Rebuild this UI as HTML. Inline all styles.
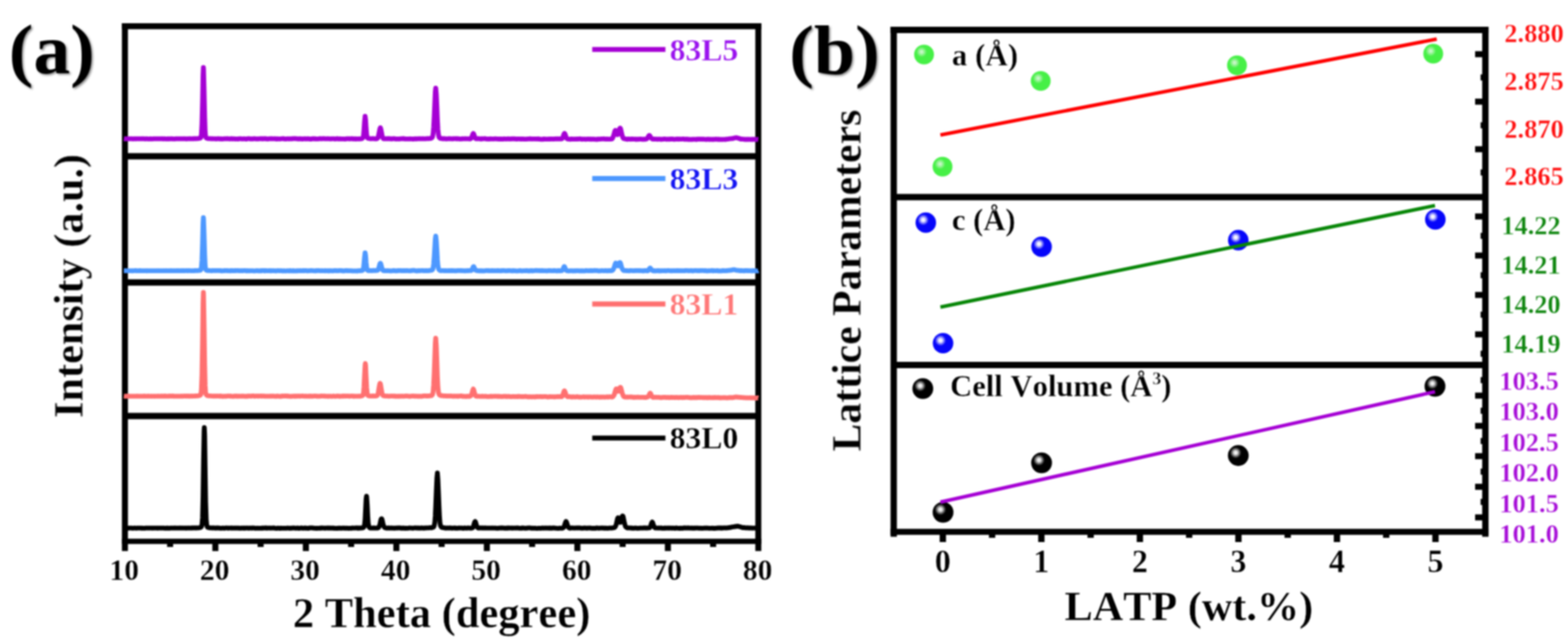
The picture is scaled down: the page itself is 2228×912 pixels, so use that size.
<!DOCTYPE html>
<html lang="en">
<head>
<meta charset="utf-8">
<title>XRD patterns and lattice parameters</title>
<style>
html,body{margin:0;padding:0;background:#fff;}
body{width:2228px;height:912px;overflow:hidden;}
svg{display:block;}
svg text{font-family:'Liberation Serif','DejaVu Serif',serif;font-weight:bold;font-kerning:none;stroke:#fff;stroke-width:0.4px;stroke-linejoin:round;}
#fig{filter:blur(0.8px);}
svg text.lab{stroke:none;filter:drop-shadow(2.5px 2.5px 1.5px rgba(0,0,0,0.45));}
</style>
</head>
<body>
<svg width="2228" height="912" viewBox="0 0 2228 912">
<rect width="2228" height="912" fill="#fff"/>
<g id="fig">
<g id="panel-a">
<g stroke="#000" fill="none" stroke-linecap="butt">
<line x1="177.5" y1="33" x2="177.5" y2="782.8" stroke-width="8.5"/>
<line x1="1077.5" y1="33" x2="1077.5" y2="782.8" stroke-width="8.5"/>
<line x1="173.2" y1="37.25" x2="1081.8" y2="37.25" stroke-width="8.5"/>
<line x1="173.2" y1="769" x2="1081.8" y2="769" stroke-width="7.6"/>
<line x1="177.5" y1="222" x2="1077.5" y2="222" stroke-width="9"/>
<line x1="177.5" y1="401.3" x2="1077.5" y2="401.3" stroke-width="9"/>
<line x1="177.5" y1="590.9" x2="1077.5" y2="590.9" stroke-width="9"/>
<line x1="306.0" y1="769" x2="306.0" y2="782.8" stroke-width="8.6"/>
<line x1="434.6" y1="769" x2="434.6" y2="782.8" stroke-width="8.6"/>
<line x1="563.2" y1="769" x2="563.2" y2="782.8" stroke-width="8.6"/>
<line x1="691.8" y1="769" x2="691.8" y2="782.8" stroke-width="8.6"/>
<line x1="820.4" y1="769" x2="820.4" y2="782.8" stroke-width="8.6"/>
<line x1="949.0" y1="769" x2="949.0" y2="782.8" stroke-width="8.6"/>
<line x1="241.7" y1="769" x2="241.7" y2="777" stroke-width="8.6"/>
<line x1="370.3" y1="769" x2="370.3" y2="777" stroke-width="8.6"/>
<line x1="498.9" y1="769" x2="498.9" y2="777" stroke-width="8.6"/>
<line x1="627.5" y1="769" x2="627.5" y2="777" stroke-width="8.6"/>
<line x1="756.1" y1="769" x2="756.1" y2="777" stroke-width="8.6"/>
<line x1="884.7" y1="769" x2="884.7" y2="777" stroke-width="8.6"/>
<line x1="1013.3" y1="769" x2="1013.3" y2="777" stroke-width="8.6"/>
</g>
<path d="M176.0 197.1 L176.8 197.2 L177.5 197.3 L178.2 197.2 L179.0 197.2 L179.8 197.2 L180.5 197.2 L181.2 197.3 L182.0 197.2 L182.8 197.1 L183.5 197.2 L184.2 197.2 L185.0 197.2 L185.8 197.1 L186.5 197.1 L187.2 197.2 L188.0 197.2 L188.8 197.3 L189.5 197.3 L190.2 197.2 L191.0 197.1 L191.8 197.1 L192.5 197.3 L193.2 197.2 L194.0 197.1 L194.8 197.2 L195.5 197.1 L196.2 197.1 L197.0 197.1 L197.8 197.1 L198.5 197.1 L199.2 197.1 L200.0 197.1 L200.8 197.1 L201.5 197.1 L202.2 197.0 L203.0 197.2 L203.8 197.2 L204.5 197.2 L205.2 197.2 L206.0 197.3 L206.8 197.3 L207.5 197.2 L208.2 197.2 L209.0 197.2 L209.8 197.3 L210.5 197.3 L211.2 197.3 L212.0 197.3 L212.8 197.3 L213.5 197.2 L214.2 197.2 L215.0 197.3 L215.8 197.3 L216.5 197.3 L217.2 197.3 L218.0 197.1 L218.8 197.1 L219.5 197.2 L220.2 197.2 L221.0 197.1 L221.8 197.2 L222.5 197.2 L223.2 197.2 L224.0 197.2 L224.8 197.2 L225.5 197.2 L226.2 197.2 L227.0 197.2 L227.8 197.2 L228.5 197.2 L229.2 197.1 L230.0 197.0 L230.8 197.1 L231.5 197.3 L232.2 197.3 L233.0 197.2 L233.8 197.1 L234.5 197.2 L235.2 197.3 L236.0 197.3 L236.8 197.3 L237.5 197.3 L238.2 197.2 L239.0 197.2 L239.8 197.3 L240.5 197.3 L241.2 197.2 L242.0 197.2 L242.8 197.2 L243.5 197.3 L244.2 197.1 L245.0 197.2 L245.8 197.3 L246.5 197.3 L247.2 197.3 L248.0 197.3 L248.8 197.3 L249.5 197.2 L250.2 197.2 L251.0 197.1 L251.8 197.2 L252.5 197.2 L253.2 197.1 L254.0 197.2 L254.8 197.2 L255.5 197.1 L256.2 197.1 L257.0 197.2 L257.8 197.2 L258.5 197.2 L259.2 197.2 L260.0 197.1 L260.8 197.1 L261.5 197.0 L262.2 197.1 L263.0 197.2 L263.8 197.2 L264.5 197.3 L265.2 197.3 L266.0 197.2 L266.8 197.2 L267.5 197.2 L268.2 197.1 L269.0 197.0 L269.8 197.0 L270.5 197.1 L271.2 197.1 L272.0 197.0 L272.8 197.1 L273.5 197.1 L274.2 197.0 L275.0 197.0 L275.8 197.0 L276.5 197.0 L277.2 196.9 L278.0 197.0 L278.8 197.0 L279.5 196.9 L280.2 196.9 L281.0 196.8 L281.8 196.7 L282.5 196.7 L283.2 196.5 L284.0 196.3 L284.8 196.1 L285.5 195.1 L286.2 191.0 L287.0 176.5 L287.8 144.6 L288.5 106.9 L289.0 95.9 L289.2 98.1 L290.0 128.6 L290.8 165.9 L291.5 187.0 L292.2 194.1 L293.0 195.9 L293.8 196.3 L294.5 196.6 L295.2 196.8 L296.0 196.8 L296.8 196.8 L297.5 196.9 L298.2 196.9 L299.0 197.0 L299.8 197.0 L300.5 197.1 L301.2 197.0 L302.0 197.0 L302.8 197.1 L303.5 197.2 L304.2 197.1 L305.0 197.2 L305.8 197.1 L306.5 197.3 L307.2 197.4 L308.0 197.2 L308.8 197.1 L309.5 196.9 L310.2 197.2 L311.0 197.0 L311.8 197.2 L312.5 197.4 L313.2 197.3 L314.0 197.1 L314.8 197.3 L315.5 197.5 L316.2 197.4 L317.0 197.3 L317.8 197.2 L318.5 197.1 L319.2 197.0 L320.0 197.2 L320.8 197.1 L321.5 197.0 L322.2 196.9 L323.0 197.1 L323.8 197.0 L324.5 197.1 L325.2 197.1 L326.0 197.3 L326.8 197.4 L327.5 197.1 L328.2 197.0 L329.0 197.0 L329.8 197.3 L330.5 197.4 L331.2 197.2 L332.0 197.1 L332.8 197.2 L333.5 197.3 L334.2 197.5 L335.0 197.3 L335.8 197.4 L336.5 197.4 L337.2 197.3 L338.0 197.5 L338.8 197.2 L339.5 197.3 L340.2 197.1 L341.0 197.0 L341.8 197.2 L342.5 197.1 L343.2 197.3 L344.0 197.3 L344.8 197.4 L345.5 197.3 L346.2 197.2 L347.0 197.1 L347.8 197.3 L348.5 197.3 L349.2 197.5 L350.0 197.5 L350.8 197.2 L351.5 197.2 L352.2 197.0 L353.0 196.9 L353.8 196.8 L354.5 197.1 L355.2 197.3 L356.0 197.4 L356.8 197.2 L357.5 197.3 L358.2 197.4 L359.0 197.2 L359.8 197.3 L360.5 197.1 L361.2 197.0 L362.0 197.0 L362.8 197.2 L363.5 197.2 L364.2 197.4 L365.0 197.3 L365.8 197.2 L366.5 197.3 L367.2 197.4 L368.0 197.1 L368.8 197.2 L369.5 197.0 L370.2 196.9 L371.0 197.2 L371.8 197.0 L372.5 197.0 L373.2 197.3 L374.0 197.2 L374.8 197.0 L375.5 197.0 L376.2 196.9 L377.0 197.1 L377.8 197.0 L378.5 197.3 L379.2 197.2 L380.0 197.4 L380.8 197.5 L381.5 197.3 L382.2 197.1 L383.0 197.2 L383.8 197.0 L384.5 197.1 L385.2 197.0 L386.0 196.8 L386.8 197.2 L387.5 197.1 L388.2 197.2 L389.0 197.2 L389.8 197.1 L390.5 196.9 L391.2 197.2 L392.0 197.4 L392.8 197.5 L393.5 197.2 L394.2 197.1 L395.0 197.2 L395.8 197.4 L396.5 197.3 L397.2 197.4 L398.0 197.4 L398.8 197.2 L399.5 197.2 L400.2 197.1 L401.0 197.0 L401.8 196.9 L402.5 196.9 L403.2 197.3 L404.0 197.2 L404.8 197.3 L405.5 197.3 L406.2 197.5 L407.0 197.3 L407.8 197.2 L408.5 197.1 L409.2 197.1 L410.0 197.3 L410.8 197.4 L411.5 197.2 L412.2 197.1 L413.0 197.2 L413.8 197.2 L414.5 197.3 L415.2 197.1 L416.0 196.9 L416.8 196.9 L417.5 196.8 L418.2 197.0 L419.0 196.9 L419.8 196.8 L420.5 197.0 L421.2 197.0 L422.0 197.2 L422.8 197.2 L423.5 197.4 L424.2 197.1 L425.0 197.2 L425.8 197.3 L426.5 197.1 L427.2 197.3 L428.0 197.1 L428.8 197.3 L429.5 197.5 L430.2 197.5 L431.0 197.3 L431.8 197.1 L432.5 197.1 L433.2 197.3 L434.0 197.2 L434.8 197.4 L435.5 197.1 L436.2 197.3 L437.0 197.1 L437.8 197.0 L438.5 197.3 L439.2 197.4 L440.0 197.5 L440.8 197.5 L441.5 197.5 L442.2 197.5 L443.0 197.2 L443.8 197.2 L444.5 197.0 L445.2 197.2 L446.0 197.3 L446.8 197.1 L447.5 197.0 L448.2 197.3 L449.0 197.4 L449.8 197.3 L450.5 197.3 L451.2 197.4 L452.0 197.3 L452.8 197.2 L453.5 197.1 L454.2 197.1 L455.0 196.9 L455.8 197.1 L456.5 197.1 L457.2 197.2 L458.0 197.0 L458.8 197.0 L459.5 196.9 L460.2 196.9 L461.0 196.9 L461.8 197.2 L462.5 197.1 L463.2 197.1 L464.0 197.2 L464.8 197.1 L465.5 196.9 L466.2 197.0 L467.0 197.1 L467.8 197.2 L468.5 197.2 L469.2 197.3 L470.0 197.3 L470.8 197.2 L471.5 197.2 L472.2 197.2 L473.0 197.1 L473.8 197.1 L474.5 197.1 L475.2 197.3 L476.0 197.5 L476.8 197.3 L477.5 197.3 L478.2 197.1 L479.0 196.9 L479.8 197.0 L480.5 197.3 L481.2 197.1 L482.0 197.2 L482.8 197.4 L483.5 197.2 L484.2 197.3 L485.0 197.4 L485.8 197.3 L486.5 197.3 L487.2 197.4 L488.0 197.3 L488.8 197.4 L489.5 197.5 L490.2 197.6 L491.0 197.5 L491.8 197.2 L492.5 197.1 L493.2 197.0 L494.0 197.1 L494.8 197.2 L495.5 197.0 L496.2 197.2 L497.0 197.3 L497.8 197.2 L498.5 197.2 L499.2 197.0 L500.0 197.2 L500.8 197.0 L501.5 197.3 L502.2 197.4 L503.0 197.3 L503.8 197.2 L504.5 197.3 L505.2 197.5 L506.0 197.2 L506.8 197.3 L507.5 197.4 L508.2 197.3 L509.0 197.3 L509.8 197.2 L510.5 197.3 L511.2 197.4 L512.0 197.2 L512.8 197.2 L513.5 197.1 L514.2 196.8 L515.0 196.5 L515.8 195.5 L516.5 192.5 L517.2 184.4 L518.0 172.6 L518.8 165.2 L518.8 165.1 L519.5 170.2 L520.2 181.9 L521.0 191.2 L521.8 195.3 L522.5 196.3 L523.2 196.5 L524.0 196.7 L524.8 196.6 L525.5 196.9 L526.2 197.0 L527.0 197.2 L527.8 197.0 L528.5 196.9 L529.2 197.0 L530.0 196.9 L530.8 197.0 L531.5 196.9 L532.2 197.1 L533.0 197.2 L533.8 197.2 L534.5 197.3 L535.2 197.1 L536.0 196.7 L536.8 196.1 L537.5 194.2 L538.2 191.1 L539.0 186.8 L539.8 182.9 L540.4 181.4 L540.5 181.4 L541.2 183.4 L542.0 187.6 L542.8 191.7 L543.5 194.8 L544.2 196.3 L545.0 197.1 L545.8 197.0 L546.5 197.0 L547.2 197.1 L548.0 197.0 L548.8 197.1 L549.5 197.0 L550.2 197.1 L551.0 196.9 L551.8 197.0 L552.5 197.0 L553.2 197.0 L554.0 197.0 L554.8 197.2 L555.5 197.3 L556.2 197.2 L557.0 197.3 L557.8 197.2 L558.5 197.0 L559.2 196.9 L560.0 196.9 L560.8 197.0 L561.5 197.3 L562.2 197.4 L563.0 197.3 L563.8 197.5 L564.5 197.3 L565.2 197.4 L566.0 197.3 L566.8 197.3 L567.5 197.5 L568.2 197.3 L569.0 197.1 L569.8 197.2 L570.5 197.2 L571.2 197.1 L572.0 196.9 L572.8 197.0 L573.5 197.0 L574.2 197.0 L575.0 197.3 L575.8 197.3 L576.5 197.3 L577.2 197.4 L578.0 197.4 L578.8 197.3 L579.5 197.4 L580.2 197.4 L581.0 197.3 L581.8 197.3 L582.5 197.2 L583.2 197.3 L584.0 197.3 L584.8 197.4 L585.5 197.4 L586.2 197.5 L587.0 197.5 L587.8 197.5 L588.5 197.4 L589.2 197.2 L590.0 197.1 L590.8 197.2 L591.5 197.4 L592.2 197.3 L593.0 197.1 L593.8 197.2 L594.5 197.2 L595.2 197.2 L596.0 196.9 L596.8 197.0 L597.5 197.2 L598.2 197.1 L599.0 197.0 L599.8 197.1 L600.5 196.9 L601.2 197.0 L602.0 197.2 L602.8 197.2 L603.5 197.1 L604.2 197.2 L605.0 197.1 L605.8 197.0 L606.5 196.8 L607.2 197.0 L608.0 196.9 L608.8 196.7 L609.5 196.9 L610.2 196.8 L611.0 196.7 L611.8 196.6 L612.5 196.6 L613.2 196.1 L614.0 195.5 L614.8 193.7 L615.5 189.3 L616.2 180.3 L617.0 165.3 L617.8 146.6 L618.5 130.5 L619.1 125.1 L619.2 125.3 L620.0 134.4 L620.8 152.1 L621.5 170.2 L622.2 183.5 L623.0 191.0 L623.8 194.7 L624.5 195.7 L625.2 196.4 L626.0 196.7 L626.8 196.7 L627.5 196.7 L628.2 196.9 L629.0 197.1 L629.8 196.9 L630.5 197.0 L631.2 196.9 L632.0 197.1 L632.8 197.1 L633.5 197.3 L634.2 197.3 L635.0 197.3 L635.8 197.1 L636.5 197.1 L637.2 197.0 L638.0 196.9 L638.8 197.1 L639.5 197.0 L640.2 197.2 L641.0 197.1 L641.8 197.2 L642.5 197.3 L643.2 197.2 L644.0 197.0 L644.8 197.0 L645.5 197.1 L646.2 196.9 L647.0 196.9 L647.8 196.8 L648.5 197.0 L649.2 197.3 L650.0 197.1 L650.8 196.9 L651.5 197.1 L652.2 197.3 L653.0 197.5 L653.8 197.4 L654.5 197.3 L655.2 197.4 L656.0 197.2 L656.8 197.3 L657.5 197.1 L658.2 197.1 L659.0 197.1 L659.8 197.1 L660.5 197.0 L661.2 197.0 L662.0 197.2 L662.8 197.2 L663.5 197.2 L664.2 197.1 L665.0 197.2 L665.8 197.1 L666.5 197.2 L667.2 197.4 L668.0 197.4 L668.8 196.9 L669.5 196.5 L670.2 195.3 L671.0 192.9 L671.8 190.6 L672.5 189.5 L672.5 189.5 L673.2 190.5 L674.0 192.9 L674.8 195.3 L675.5 196.4 L676.2 197.1 L677.0 197.0 L677.8 197.0 L678.5 197.2 L679.2 197.0 L680.0 197.0 L680.8 197.0 L681.5 197.1 L682.2 197.3 L683.0 197.5 L683.8 197.2 L684.5 197.0 L685.2 197.3 L686.0 197.1 L686.8 197.1 L687.5 197.0 L688.2 196.9 L689.0 196.9 L689.8 197.1 L690.5 197.3 L691.2 197.4 L692.0 197.5 L692.8 197.5 L693.5 197.4 L694.2 197.4 L695.0 197.6 L695.8 197.5 L696.5 197.3 L697.2 197.1 L698.0 197.4 L698.8 197.4 L699.5 197.3 L700.2 197.4 L701.0 197.4 L701.8 197.4 L702.5 197.2 L703.2 197.2 L704.0 197.2 L704.8 197.1 L705.5 197.4 L706.2 197.3 L707.0 197.4 L707.8 197.5 L708.5 197.5 L709.2 197.5 L710.0 197.6 L710.8 197.4 L711.5 197.6 L712.2 197.3 L713.0 197.5 L713.8 197.6 L714.5 197.7 L715.2 197.3 L716.0 197.2 L716.8 197.4 L717.5 197.4 L718.2 197.3 L719.0 197.5 L719.8 197.3 L720.5 197.3 L721.2 197.3 L722.0 197.2 L722.8 197.2 L723.5 197.4 L724.2 197.5 L725.0 197.3 L725.8 197.3 L726.5 197.2 L727.2 197.4 L728.0 197.2 L728.8 197.1 L729.5 197.1 L730.2 197.3 L731.0 197.3 L731.8 197.2 L732.5 197.4 L733.2 197.5 L734.0 197.6 L734.8 197.4 L735.5 197.4 L736.2 197.3 L737.0 197.3 L737.8 197.3 L738.5 197.3 L739.2 197.4 L740.0 197.6 L740.8 197.6 L741.5 197.3 L742.2 197.4 L743.0 197.4 L743.8 197.6 L744.5 197.6 L745.2 197.7 L746.0 197.7 L746.8 197.6 L747.5 197.7 L748.2 197.7 L749.0 197.5 L749.8 197.3 L750.5 197.3 L751.2 197.4 L752.0 197.2 L752.8 197.2 L753.5 197.3 L754.2 197.2 L755.0 197.4 L755.8 197.5 L756.5 197.4 L757.2 197.3 L758.0 197.3 L758.8 197.3 L759.5 197.4 L760.2 197.4 L761.0 197.4 L761.8 197.3 L762.5 197.5 L763.2 197.4 L764.0 197.3 L764.8 197.2 L765.5 197.5 L766.2 197.5 L767.0 197.6 L767.8 197.8 L768.5 197.8 L769.2 197.8 L770.0 197.9 L770.8 197.9 L771.5 197.8 L772.2 197.5 L773.0 197.5 L773.8 197.5 L774.5 197.7 L775.2 197.7 L776.0 197.7 L776.8 197.7 L777.5 197.6 L778.2 197.7 L779.0 197.7 L779.8 197.5 L780.5 197.5 L781.2 197.7 L782.0 197.6 L782.8 197.4 L783.5 197.3 L784.2 197.4 L785.0 197.5 L785.8 197.7 L786.5 197.4 L787.2 197.4 L788.0 197.5 L788.8 197.3 L789.5 197.2 L790.2 197.3 L791.0 197.3 L791.8 197.2 L792.5 197.2 L793.2 197.3 L794.0 197.4 L794.8 197.2 L795.5 197.1 L796.2 197.4 L797.0 197.4 L797.8 197.2 L798.5 197.1 L799.2 196.0 L800.0 194.4 L800.8 192.3 L801.5 190.1 L802.1 189.4 L802.2 189.4 L803.0 190.7 L803.8 193.0 L804.5 195.5 L805.2 196.6 L806.0 197.3 L806.8 197.5 L807.5 197.7 L808.2 197.7 L809.0 197.7 L809.8 197.8 L810.5 197.9 L811.2 197.6 L812.0 197.4 L812.8 197.6 L813.5 197.7 L814.2 197.6 L815.0 197.6 L815.8 197.5 L816.5 197.7 L817.2 197.7 L818.0 197.7 L818.8 197.4 L819.5 197.6 L820.2 197.6 L821.0 197.4 L821.8 197.4 L822.5 197.5 L823.2 197.3 L824.0 197.2 L824.8 197.3 L825.5 197.5 L826.2 197.7 L827.0 197.8 L827.8 197.7 L828.5 197.7 L829.2 197.7 L830.0 197.6 L830.8 197.6 L831.5 197.7 L832.2 197.9 L833.0 197.7 L833.8 197.7 L834.5 197.6 L835.2 197.5 L836.0 197.5 L836.8 197.6 L837.5 197.6 L838.2 197.8 L839.0 197.5 L839.8 197.6 L840.5 197.8 L841.2 197.8 L842.0 197.7 L842.8 197.6 L843.5 197.6 L844.2 197.8 L845.0 197.9 L845.8 197.8 L846.5 197.9 L847.2 198.0 L848.0 198.0 L848.8 197.7 L849.5 197.7 L850.2 197.8 L851.0 197.6 L851.8 197.7 L852.5 197.6 L853.2 197.5 L854.0 197.5 L854.8 197.4 L855.5 197.4 L856.2 197.4 L857.0 197.3 L857.8 197.2 L858.5 197.3 L859.2 197.5 L860.0 197.6 L860.8 197.5 L861.5 197.7 L862.2 197.5 L863.0 197.5 L863.8 197.6 L864.5 197.7 L865.2 197.6 L866.0 197.6 L866.8 197.6 L867.5 197.6 L868.2 197.4 L869.0 197.5 L869.8 197.1 L870.5 196.0 L871.2 194.5 L872.0 192.2 L872.8 189.3 L873.5 186.6 L874.2 185.2 L874.4 185.1 L875.0 185.6 L875.8 187.6 L876.5 189.9 L877.2 191.3 L878.0 191.0 L878.8 189.1 L879.5 186.1 L880.2 183.3 L881.0 181.9 L881.1 181.9 L881.8 182.8 L882.5 185.6 L883.2 189.1 L884.0 192.3 L884.8 194.7 L885.5 196.2 L886.2 196.8 L887.0 197.0 L887.8 197.2 L888.5 197.3 L889.2 197.5 L890.0 197.7 L890.8 197.8 L891.5 197.8 L892.2 197.5 L893.0 197.5 L893.8 197.6 L894.5 197.5 L895.2 197.6 L896.0 197.8 L896.8 197.5 L897.5 197.7 L898.2 197.5 L899.0 197.5 L899.8 197.7 L900.5 197.6 L901.2 197.6 L902.0 197.6 L902.8 197.8 L903.5 198.0 L904.2 197.7 L905.0 197.7 L905.8 197.9 L906.5 197.8 L907.2 197.6 L908.0 197.8 L908.8 197.6 L909.5 197.7 L910.2 197.4 L911.0 197.7 L911.8 197.8 L912.5 197.9 L913.2 198.0 L914.0 197.8 L914.8 197.7 L915.5 197.7 L916.2 197.8 L917.0 197.9 L917.8 197.6 L918.5 197.3 L919.2 197.0 L920.0 196.2 L920.8 194.8 L921.5 193.5 L922.2 192.5 L922.6 192.3 L923.0 192.5 L923.8 193.5 L924.5 195.0 L925.2 196.1 L926.0 196.9 L926.8 197.3 L927.5 197.6 L928.2 197.5 L929.0 197.5 L929.8 197.5 L930.5 197.6 L931.2 197.6 L932.0 197.7 L932.8 197.6 L933.5 197.8 L934.2 197.8 L935.0 197.8 L935.8 197.6 L936.5 197.6 L937.2 197.7 L938.0 197.8 L938.8 197.9 L939.5 198.0 L940.2 197.8 L941.0 197.8 L941.8 197.7 L942.5 197.6 L943.2 197.5 L944.0 197.5 L944.8 197.4 L945.5 197.6 L946.2 197.7 L947.0 197.8 L947.8 197.8 L948.5 197.7 L949.2 197.6 L950.0 197.7 L950.8 197.9 L951.5 197.8 L952.2 197.6 L953.0 197.4 L953.8 197.5 L954.5 197.7 L955.2 197.5 L956.0 197.5 L956.8 197.7 L957.5 197.9 L958.2 197.8 L959.0 197.8 L959.8 197.8 L960.5 197.6 L961.2 197.6 L962.0 197.5 L962.8 197.5 L963.5 197.7 L964.2 197.8 L965.0 197.6 L965.8 197.5 L966.5 197.7 L967.2 197.6 L968.0 197.6 L968.8 197.6 L969.5 197.5 L970.2 197.4 L971.0 197.4 L971.8 197.5 L972.5 197.8 L973.2 197.9 L974.0 197.7 L974.8 197.8 L975.5 197.7 L976.2 197.8 L977.0 197.7 L977.8 198.0 L978.5 197.8 L979.2 198.0 L980.0 198.0 L980.8 198.1 L981.5 198.0 L982.2 198.1 L983.0 198.0 L983.8 198.0 L984.5 198.0 L985.2 197.9 L986.0 197.9 L986.8 197.9 L987.5 197.8 L988.2 198.0 L989.0 198.0 L989.8 198.0 L990.5 197.7 L991.2 197.8 L992.0 197.7 L992.8 197.6 L993.5 197.7 L994.2 197.8 L995.0 197.7 L995.8 197.7 L996.5 197.7 L997.2 197.8 L998.0 197.8 L998.8 197.6 L999.5 197.7 L1000.2 197.8 L1001.0 197.8 L1001.8 197.9 L1002.5 198.0 L1003.2 198.1 L1004.0 198.1 L1004.8 197.8 L1005.5 197.7 L1006.2 197.9 L1007.0 197.7 L1007.8 198.0 L1008.5 197.8 L1009.2 198.0 L1010.0 197.8 L1010.8 198.0 L1011.5 198.1 L1012.2 197.9 L1013.0 198.1 L1013.8 197.9 L1014.5 198.0 L1015.2 197.9 L1016.0 197.9 L1016.8 197.7 L1017.5 197.8 L1018.2 197.7 L1019.0 197.9 L1019.8 198.0 L1020.5 198.0 L1021.2 197.7 L1022.0 198.0 L1022.8 198.1 L1023.5 198.1 L1024.2 198.0 L1025.0 198.0 L1025.8 198.1 L1026.5 198.0 L1027.2 198.1 L1028.0 198.0 L1028.8 197.9 L1029.5 198.1 L1030.2 198.0 L1031.0 198.0 L1031.8 197.7 L1032.5 197.7 L1033.2 197.6 L1034.0 197.7 L1034.8 197.5 L1035.5 197.3 L1036.2 197.2 L1037.0 197.1 L1037.8 197.1 L1038.5 197.0 L1039.2 196.8 L1040.0 196.9 L1040.8 196.8 L1041.5 196.5 L1042.2 196.4 L1043.0 196.2 L1043.8 195.9 L1044.5 195.9 L1045.2 195.6 L1045.5 195.7 L1046.0 195.6 L1046.8 195.6 L1047.5 195.9 L1048.2 196.2 L1049.0 196.3 L1049.8 196.6 L1050.5 196.7 L1051.2 197.0 L1052.0 197.4 L1052.8 197.6 L1053.5 197.4 L1054.2 197.5 L1055.0 197.6 L1055.8 197.6 L1056.5 197.8 L1057.2 197.8 L1058.0 198.0 L1058.8 198.0 L1059.5 198.0 L1060.2 197.8 L1061.0 197.9 L1061.8 198.1 L1062.5 197.9 L1063.2 198.0 L1064.0 198.0 L1064.8 197.9 L1065.5 198.0 L1066.2 198.2 L1067.0 197.9 L1067.8 198.1 L1068.5 198.0 L1069.2 198.1 L1070.0 197.9 L1070.8 198.0 L1071.5 197.8 L1072.2 197.8 L1073.0 198.1 L1073.8 198.1 L1074.5 198.2 L1075.2 198.1 L1076.0 198.0 L1076.8 198.0 L1077.5 198.1" fill="none" stroke="#a500d4" stroke-width="6.8" stroke-linejoin="round" stroke-linecap="butt"/>
<path d="M176.0 384.7 L176.8 384.7 L177.5 384.6 L178.2 384.5 L179.0 384.6 L179.8 384.7 L180.5 384.7 L181.2 384.6 L182.0 384.6 L182.8 384.6 L183.5 384.6 L184.2 384.6 L185.0 384.6 L185.8 384.6 L186.5 384.6 L187.2 384.7 L188.0 384.8 L188.8 384.7 L189.5 384.6 L190.2 384.6 L191.0 384.5 L191.8 384.4 L192.5 384.5 L193.2 384.5 L194.0 384.5 L194.8 384.6 L195.5 384.6 L196.2 384.6 L197.0 384.6 L197.8 384.5 L198.5 384.5 L199.2 384.5 L200.0 384.5 L200.8 384.6 L201.5 384.7 L202.2 384.6 L203.0 384.7 L203.8 384.7 L204.5 384.7 L205.2 384.7 L206.0 384.7 L206.8 384.7 L207.5 384.7 L208.2 384.7 L209.0 384.8 L209.8 384.6 L210.5 384.7 L211.2 384.7 L212.0 384.6 L212.8 384.6 L213.5 384.6 L214.2 384.7 L215.0 384.7 L215.8 384.7 L216.5 384.6 L217.2 384.7 L218.0 384.7 L218.8 384.7 L219.5 384.7 L220.2 384.7 L221.0 384.7 L221.8 384.7 L222.5 384.6 L223.2 384.6 L224.0 384.6 L224.8 384.5 L225.5 384.6 L226.2 384.6 L227.0 384.7 L227.8 384.6 L228.5 384.7 L229.2 384.7 L230.0 384.7 L230.8 384.6 L231.5 384.6 L232.2 384.6 L233.0 384.6 L233.8 384.5 L234.5 384.6 L235.2 384.7 L236.0 384.7 L236.8 384.5 L237.5 384.6 L238.2 384.7 L239.0 384.7 L239.8 384.6 L240.5 384.6 L241.2 384.5 L242.0 384.6 L242.8 384.5 L243.5 384.5 L244.2 384.6 L245.0 384.5 L245.8 384.6 L246.5 384.6 L247.2 384.6 L248.0 384.5 L248.8 384.6 L249.5 384.6 L250.2 384.6 L251.0 384.5 L251.8 384.5 L252.5 384.5 L253.2 384.6 L254.0 384.5 L254.8 384.6 L255.5 384.5 L256.2 384.6 L257.0 384.5 L257.8 384.5 L258.5 384.6 L259.2 384.5 L260.0 384.5 L260.8 384.6 L261.5 384.5 L262.2 384.5 L263.0 384.6 L263.8 384.5 L264.5 384.4 L265.2 384.5 L266.0 384.5 L266.8 384.6 L267.5 384.5 L268.2 384.5 L269.0 384.4 L269.8 384.5 L270.5 384.6 L271.2 384.6 L272.0 384.7 L272.8 384.7 L273.5 384.7 L274.2 384.7 L275.0 384.6 L275.8 384.5 L276.5 384.5 L277.2 384.5 L278.0 384.4 L278.8 384.4 L279.5 384.5 L280.2 384.3 L281.0 384.3 L281.8 384.3 L282.5 384.2 L283.2 384.1 L284.0 384.1 L284.8 383.8 L285.5 383.1 L286.2 380.0 L287.0 369.2 L287.8 345.5 L288.5 317.4 L289.0 309.2 L289.2 310.8 L290.0 333.5 L290.8 361.3 L291.5 377.0 L292.2 382.3 L293.0 383.7 L293.8 384.1 L294.5 384.3 L295.2 384.3 L296.0 384.3 L296.8 384.3 L297.5 384.4 L298.2 384.4 L299.0 384.5 L299.8 384.6 L300.5 384.5 L301.2 384.5 L302.0 384.5 L302.8 384.4 L303.5 384.4 L304.2 384.4 L305.0 384.4 L305.8 384.5 L306.5 384.4 L307.2 384.3 L308.0 384.3 L308.8 384.3 L309.5 384.3 L310.2 384.4 L311.0 384.4 L311.8 384.4 L312.5 384.5 L313.2 384.4 L314.0 384.7 L314.8 384.8 L315.5 384.8 L316.2 384.7 L317.0 384.7 L317.8 384.7 L318.5 384.4 L319.2 384.5 L320.0 384.5 L320.8 384.4 L321.5 384.3 L322.2 384.5 L323.0 384.5 L323.8 384.5 L324.5 384.7 L325.2 384.7 L326.0 384.6 L326.8 384.8 L327.5 384.7 L328.2 384.4 L329.0 384.6 L329.8 384.4 L330.5 384.4 L331.2 384.6 L332.0 384.7 L332.8 384.4 L333.5 384.5 L334.2 384.5 L335.0 384.5 L335.8 384.4 L336.5 384.5 L337.2 384.4 L338.0 384.4 L338.8 384.4 L339.5 384.7 L340.2 384.5 L341.0 384.6 L341.8 384.5 L342.5 384.6 L343.2 384.5 L344.0 384.5 L344.8 384.7 L345.5 384.6 L346.2 384.4 L347.0 384.3 L347.8 384.3 L348.5 384.5 L349.2 384.6 L350.0 384.8 L350.8 384.8 L351.5 384.5 L352.2 384.6 L353.0 384.7 L353.8 384.8 L354.5 384.7 L355.2 384.6 L356.0 384.6 L356.8 384.7 L357.5 384.6 L358.2 384.6 L359.0 384.6 L359.8 384.8 L360.5 384.8 L361.2 384.9 L362.0 384.9 L362.8 384.7 L363.5 384.6 L364.2 384.6 L365.0 384.5 L365.8 384.5 L366.5 384.6 L367.2 384.8 L368.0 384.8 L368.8 384.8 L369.5 384.6 L370.2 384.5 L371.0 384.8 L371.8 384.5 L372.5 384.5 L373.2 384.4 L374.0 384.3 L374.8 384.6 L375.5 384.8 L376.2 384.8 L377.0 384.5 L377.8 384.5 L378.5 384.4 L379.2 384.6 L380.0 384.7 L380.8 384.6 L381.5 384.6 L382.2 384.4 L383.0 384.5 L383.8 384.7 L384.5 384.8 L385.2 384.5 L386.0 384.6 L386.8 384.7 L387.5 384.5 L388.2 384.7 L389.0 384.7 L389.8 384.7 L390.5 384.6 L391.2 384.8 L392.0 384.9 L392.8 384.8 L393.5 384.6 L394.2 384.5 L395.0 384.4 L395.8 384.5 L396.5 384.7 L397.2 384.5 L398.0 384.6 L398.8 384.6 L399.5 384.5 L400.2 384.7 L401.0 384.8 L401.8 384.8 L402.5 384.7 L403.2 384.9 L404.0 384.7 L404.8 384.8 L405.5 384.8 L406.2 384.8 L407.0 384.9 L407.8 384.6 L408.5 384.7 L409.2 384.6 L410.0 384.7 L410.8 384.9 L411.5 384.8 L412.2 384.5 L413.0 384.5 L413.8 384.7 L414.5 384.8 L415.2 384.8 L416.0 384.8 L416.8 384.5 L417.5 384.8 L418.2 384.8 L419.0 384.8 L419.8 384.9 L420.5 384.9 L421.2 384.6 L422.0 384.8 L422.8 384.8 L423.5 384.6 L424.2 384.7 L425.0 384.7 L425.8 384.5 L426.5 384.7 L427.2 384.5 L428.0 384.6 L428.8 384.6 L429.5 384.5 L430.2 384.5 L431.0 384.6 L431.8 384.4 L432.5 384.7 L433.2 384.5 L434.0 384.3 L434.8 384.4 L435.5 384.6 L436.2 384.7 L437.0 384.8 L437.8 384.7 L438.5 384.7 L439.2 384.6 L440.0 384.5 L440.8 384.5 L441.5 384.4 L442.2 384.3 L443.0 384.5 L443.8 384.4 L444.5 384.6 L445.2 384.7 L446.0 384.6 L446.8 384.7 L447.5 384.8 L448.2 384.9 L449.0 384.6 L449.8 384.4 L450.5 384.5 L451.2 384.5 L452.0 384.4 L452.8 384.3 L453.5 384.4 L454.2 384.7 L455.0 384.6 L455.8 384.6 L456.5 384.6 L457.2 384.5 L458.0 384.7 L458.8 384.6 L459.5 384.7 L460.2 384.6 L461.0 384.6 L461.8 384.8 L462.5 384.5 L463.2 384.7 L464.0 384.6 L464.8 384.6 L465.5 384.8 L466.2 384.8 L467.0 384.6 L467.8 384.8 L468.5 384.5 L469.2 384.6 L470.0 384.6 L470.8 384.6 L471.5 384.7 L472.2 384.8 L473.0 384.8 L473.8 384.6 L474.5 384.5 L475.2 384.5 L476.0 384.4 L476.8 384.4 L477.5 384.7 L478.2 384.5 L479.0 384.7 L479.8 384.6 L480.5 384.5 L481.2 384.5 L482.0 384.3 L482.8 384.4 L483.5 384.3 L484.2 384.4 L485.0 384.4 L485.8 384.6 L486.5 384.8 L487.2 384.7 L488.0 384.7 L488.8 384.9 L489.5 384.7 L490.2 384.5 L491.0 384.4 L491.8 384.3 L492.5 384.5 L493.2 384.5 L494.0 384.5 L494.8 384.6 L495.5 384.5 L496.2 384.7 L497.0 384.7 L497.8 384.6 L498.5 384.7 L499.2 384.6 L500.0 384.8 L500.8 384.9 L501.5 384.8 L502.2 384.8 L503.0 384.9 L503.8 384.9 L504.5 384.9 L505.2 384.9 L506.0 385.0 L506.8 384.9 L507.5 385.0 L508.2 384.7 L509.0 384.7 L509.8 384.7 L510.5 384.6 L511.2 384.5 L512.0 384.3 L512.8 384.6 L513.5 384.4 L514.2 384.3 L515.0 384.3 L515.8 383.4 L516.5 380.8 L517.2 374.5 L518.0 365.1 L518.8 359.3 L518.8 359.2 L519.5 363.2 L520.2 372.5 L521.0 379.8 L521.8 383.2 L522.5 384.2 L523.2 384.2 L524.0 384.5 L524.8 384.4 L525.5 384.4 L526.2 384.5 L527.0 384.3 L527.8 384.3 L528.5 384.6 L529.2 384.4 L530.0 384.3 L530.8 384.2 L531.5 384.2 L532.2 384.3 L533.0 384.3 L533.8 384.3 L534.5 384.2 L535.2 384.2 L536.0 384.2 L536.8 383.8 L537.5 382.8 L538.2 380.9 L539.0 377.9 L539.8 374.9 L540.4 373.8 L540.5 373.8 L541.2 375.3 L542.0 378.4 L542.8 381.3 L543.5 383.3 L544.2 384.0 L545.0 384.5 L545.8 384.6 L546.5 384.5 L547.2 384.7 L548.0 384.6 L548.8 384.6 L549.5 384.6 L550.2 384.5 L551.0 384.7 L551.8 384.7 L552.5 384.7 L553.2 384.6 L554.0 384.8 L554.8 384.9 L555.5 384.9 L556.2 384.8 L557.0 384.7 L557.8 384.6 L558.5 384.4 L559.2 384.3 L560.0 384.6 L560.8 384.5 L561.5 384.7 L562.2 384.7 L563.0 384.9 L563.8 384.6 L564.5 384.5 L565.2 384.7 L566.0 384.4 L566.8 384.3 L567.5 384.4 L568.2 384.3 L569.0 384.3 L569.8 384.5 L570.5 384.3 L571.2 384.6 L572.0 384.7 L572.8 384.4 L573.5 384.7 L574.2 384.5 L575.0 384.5 L575.8 384.6 L576.5 384.4 L577.2 384.5 L578.0 384.3 L578.8 384.3 L579.5 384.6 L580.2 384.7 L581.0 384.7 L581.8 384.7 L582.5 384.8 L583.2 384.6 L584.0 384.6 L584.8 384.4 L585.5 384.3 L586.2 384.2 L587.0 384.2 L587.8 384.2 L588.5 384.2 L589.2 384.3 L590.0 384.5 L590.8 384.7 L591.5 384.8 L592.2 384.8 L593.0 384.7 L593.8 384.8 L594.5 384.6 L595.2 384.4 L596.0 384.6 L596.8 384.6 L597.5 384.5 L598.2 384.4 L599.0 384.4 L599.8 384.4 L600.5 384.4 L601.2 384.4 L602.0 384.6 L602.8 384.7 L603.5 384.6 L604.2 384.6 L605.0 384.4 L605.8 384.6 L606.5 384.7 L607.2 384.5 L608.0 384.6 L608.8 384.6 L609.5 384.5 L610.2 384.2 L611.0 384.3 L611.8 384.1 L612.5 383.9 L613.2 383.9 L614.0 383.7 L614.8 382.9 L615.5 380.4 L616.2 374.8 L617.0 364.8 L617.8 351.5 L618.5 339.5 L619.1 335.4 L619.2 335.5 L620.0 342.4 L620.8 355.5 L621.5 368.2 L622.2 376.8 L623.0 381.3 L623.8 383.1 L624.5 383.7 L625.2 384.2 L626.0 384.5 L626.8 384.6 L627.5 384.5 L628.2 384.4 L629.0 384.3 L629.8 384.5 L630.5 384.6 L631.2 384.4 L632.0 384.6 L632.8 384.6 L633.5 384.5 L634.2 384.5 L635.0 384.6 L635.8 384.6 L636.5 384.6 L637.2 384.4 L638.0 384.6 L638.8 384.5 L639.5 384.7 L640.2 384.5 L641.0 384.5 L641.8 384.5 L642.5 384.5 L643.2 384.5 L644.0 384.7 L644.8 384.5 L645.5 384.7 L646.2 384.7 L647.0 384.8 L647.8 384.7 L648.5 384.6 L649.2 384.5 L650.0 384.5 L650.8 384.4 L651.5 384.4 L652.2 384.4 L653.0 384.4 L653.8 384.4 L654.5 384.5 L655.2 384.5 L656.0 384.4 L656.8 384.5 L657.5 384.7 L658.2 384.5 L659.0 384.6 L659.8 384.7 L660.5 384.8 L661.2 384.8 L662.0 384.6 L662.8 384.5 L663.5 384.7 L664.2 384.5 L665.0 384.3 L665.8 384.6 L666.5 384.4 L667.2 384.4 L668.0 384.3 L668.8 384.3 L669.5 384.3 L670.2 383.7 L671.0 382.4 L671.8 380.6 L672.5 378.9 L672.9 378.6 L673.2 378.8 L674.0 380.4 L674.8 382.1 L675.5 383.6 L676.2 384.2 L677.0 384.2 L677.8 384.4 L678.5 384.7 L679.2 384.7 L680.0 384.6 L680.8 384.7 L681.5 384.9 L682.2 384.6 L683.0 384.5 L683.8 384.7 L684.5 384.9 L685.2 384.6 L686.0 384.7 L686.8 384.8 L687.5 384.8 L688.2 384.8 L689.0 384.7 L689.8 384.5 L690.5 384.4 L691.2 384.3 L692.0 384.5 L692.8 384.4 L693.5 384.5 L694.2 384.5 L695.0 384.5 L695.8 384.7 L696.5 384.6 L697.2 384.6 L698.0 384.6 L698.8 384.4 L699.5 384.4 L700.2 384.5 L701.0 384.7 L701.8 384.5 L702.5 384.7 L703.2 384.7 L704.0 384.5 L704.8 384.6 L705.5 384.6 L706.2 384.6 L707.0 384.4 L707.8 384.5 L708.5 384.5 L709.2 384.7 L710.0 384.7 L710.8 384.7 L711.5 384.8 L712.2 384.6 L713.0 384.4 L713.8 384.5 L714.5 384.3 L715.2 384.3 L716.0 384.3 L716.8 384.5 L717.5 384.6 L718.2 384.6 L719.0 384.8 L719.8 384.6 L720.5 384.6 L721.2 384.4 L722.0 384.6 L722.8 384.5 L723.5 384.4 L724.2 384.4 L725.0 384.5 L725.8 384.6 L726.5 384.8 L727.2 384.6 L728.0 384.5 L728.8 384.8 L729.5 384.7 L730.2 384.5 L731.0 384.7 L731.8 384.6 L732.5 384.8 L733.2 384.8 L734.0 384.8 L734.8 384.9 L735.5 384.8 L736.2 384.9 L737.0 384.6 L737.8 384.5 L738.5 384.7 L739.2 384.4 L740.0 384.6 L740.8 384.8 L741.5 384.8 L742.2 384.9 L743.0 384.6 L743.8 384.6 L744.5 384.7 L745.2 384.6 L746.0 384.6 L746.8 384.7 L747.5 384.5 L748.2 384.3 L749.0 384.5 L749.8 384.7 L750.5 384.8 L751.2 384.8 L752.0 384.6 L752.8 384.8 L753.5 384.5 L754.2 384.4 L755.0 384.6 L755.8 384.8 L756.5 384.7 L757.2 384.8 L758.0 384.6 L758.8 384.6 L759.5 384.4 L760.2 384.4 L761.0 384.3 L761.8 384.2 L762.5 384.3 L763.2 384.4 L764.0 384.4 L764.8 384.5 L765.5 384.4 L766.2 384.5 L767.0 384.5 L767.8 384.5 L768.5 384.7 L769.2 384.5 L770.0 384.5 L770.8 384.5 L771.5 384.5 L772.2 384.7 L773.0 384.7 L773.8 384.7 L774.5 384.6 L775.2 384.6 L776.0 384.8 L776.8 384.8 L777.5 384.8 L778.2 384.6 L779.0 384.6 L779.8 384.4 L780.5 384.4 L781.2 384.3 L782.0 384.5 L782.8 384.7 L783.5 384.7 L784.2 384.7 L785.0 384.6 L785.8 384.5 L786.5 384.5 L787.2 384.5 L788.0 384.5 L788.8 384.4 L789.5 384.6 L790.2 384.8 L791.0 384.8 L791.8 384.8 L792.5 384.5 L793.2 384.4 L794.0 384.6 L794.8 384.8 L795.5 384.7 L796.2 384.7 L797.0 384.7 L797.8 384.4 L798.5 384.3 L799.2 383.6 L800.0 382.3 L800.8 380.2 L801.5 378.7 L801.8 378.6 L802.2 379.0 L803.0 380.8 L803.8 382.9 L804.5 384.1 L805.2 384.4 L806.0 384.6 L806.8 384.7 L807.5 384.8 L808.2 384.8 L809.0 384.9 L809.8 384.6 L810.5 384.6 L811.2 384.7 L812.0 384.6 L812.8 384.8 L813.5 384.9 L814.2 384.7 L815.0 384.7 L815.8 384.8 L816.5 384.8 L817.2 384.7 L818.0 384.8 L818.8 384.6 L819.5 384.5 L820.2 384.6 L821.0 384.7 L821.8 384.6 L822.5 384.6 L823.2 384.8 L824.0 384.9 L824.8 384.7 L825.5 384.8 L826.2 384.8 L827.0 384.7 L827.8 384.7 L828.5 384.8 L829.2 384.9 L830.0 384.8 L830.8 384.8 L831.5 384.7 L832.2 384.4 L833.0 384.5 L833.8 384.4 L834.5 384.6 L835.2 384.6 L836.0 384.6 L836.8 384.7 L837.5 384.5 L838.2 384.7 L839.0 384.6 L839.8 384.4 L840.5 384.5 L841.2 384.5 L842.0 384.7 L842.8 384.6 L843.5 384.4 L844.2 384.3 L845.0 384.2 L845.8 384.4 L846.5 384.5 L847.2 384.4 L848.0 384.4 L848.8 384.4 L849.5 384.7 L850.2 384.8 L851.0 384.9 L851.8 384.8 L852.5 384.8 L853.2 384.6 L854.0 384.6 L854.8 384.5 L855.5 384.4 L856.2 384.6 L857.0 384.6 L857.8 384.7 L858.5 384.6 L859.2 384.5 L860.0 384.5 L860.8 384.6 L861.5 384.4 L862.2 384.6 L863.0 384.8 L863.8 384.5 L864.5 384.4 L865.2 384.6 L866.0 384.6 L866.8 384.4 L867.5 384.5 L868.2 384.3 L869.0 384.5 L869.8 384.3 L870.5 383.9 L871.2 383.0 L872.0 381.6 L872.8 379.6 L873.5 377.1 L874.2 374.8 L875.0 373.8 L875.0 373.7 L875.8 374.3 L876.5 375.9 L877.2 377.4 L878.0 377.8 L878.8 376.8 L879.5 374.9 L880.2 373.2 L880.8 372.8 L881.0 372.8 L881.8 374.2 L882.5 376.8 L883.2 379.5 L884.0 381.5 L884.8 383.1 L885.5 383.7 L886.2 384.3 L887.0 384.3 L887.8 384.4 L888.5 384.4 L889.2 384.3 L890.0 384.6 L890.8 384.4 L891.5 384.6 L892.2 384.7 L893.0 384.6 L893.8 384.8 L894.5 384.5 L895.2 384.4 L896.0 384.4 L896.8 384.3 L897.5 384.5 L898.2 384.6 L899.0 384.7 L899.8 384.6 L900.5 384.4 L901.2 384.6 L902.0 384.5 L902.8 384.5 L903.5 384.4 L904.2 384.5 L905.0 384.5 L905.8 384.4 L906.5 384.3 L907.2 384.3 L908.0 384.6 L908.8 384.4 L909.5 384.4 L910.2 384.5 L911.0 384.6 L911.8 384.7 L912.5 384.7 L913.2 384.8 L914.0 384.6 L914.8 384.8 L915.5 384.5 L916.2 384.3 L917.0 384.3 L917.8 384.5 L918.5 384.5 L919.2 384.7 L920.0 384.8 L920.8 384.6 L921.5 383.9 L922.2 382.5 L923.0 381.2 L923.7 380.7 L923.8 380.7 L924.5 381.4 L925.2 382.5 L926.0 383.4 L926.8 384.2 L927.5 384.5 L928.2 384.7 L929.0 384.8 L929.8 384.5 L930.5 384.7 L931.2 384.8 L932.0 384.8 L932.8 384.7 L933.5 384.6 L934.2 384.4 L935.0 384.5 L935.8 384.8 L936.5 384.5 L937.2 384.7 L938.0 384.8 L938.8 384.7 L939.5 384.8 L940.2 384.6 L941.0 384.5 L941.8 384.6 L942.5 384.7 L943.2 384.7 L944.0 384.5 L944.8 384.7 L945.5 384.7 L946.2 384.8 L947.0 384.6 L947.8 384.5 L948.5 384.4 L949.2 384.3 L950.0 384.4 L950.8 384.4 L951.5 384.6 L952.2 384.7 L953.0 384.6 L953.8 384.8 L954.5 384.8 L955.2 384.6 L956.0 384.5 L956.8 384.7 L957.5 384.7 L958.2 384.5 L959.0 384.6 L959.8 384.6 L960.5 384.5 L961.2 384.7 L962.0 384.5 L962.8 384.5 L963.5 384.5 L964.2 384.7 L965.0 384.5 L965.8 384.7 L966.5 384.7 L967.2 384.5 L968.0 384.6 L968.8 384.7 L969.5 384.7 L970.2 384.7 L971.0 384.6 L971.8 384.6 L972.5 384.5 L973.2 384.5 L974.0 384.5 L974.8 384.4 L975.5 384.3 L976.2 384.4 L977.0 384.4 L977.8 384.5 L978.5 384.7 L979.2 384.5 L980.0 384.6 L980.8 384.5 L981.5 384.4 L982.2 384.3 L983.0 384.6 L983.8 384.8 L984.5 384.9 L985.2 384.6 L986.0 384.5 L986.8 384.3 L987.5 384.4 L988.2 384.4 L989.0 384.3 L989.8 384.4 L990.5 384.5 L991.2 384.7 L992.0 384.5 L992.8 384.3 L993.5 384.6 L994.2 384.5 L995.0 384.5 L995.8 384.4 L996.5 384.4 L997.2 384.4 L998.0 384.3 L998.8 384.3 L999.5 384.4 L1000.2 384.6 L1001.0 384.5 L1001.8 384.5 L1002.5 384.5 L1003.2 384.7 L1004.0 384.8 L1004.8 384.9 L1005.5 384.6 L1006.2 384.8 L1007.0 384.6 L1007.8 384.6 L1008.5 384.6 L1009.2 384.6 L1010.0 384.5 L1010.8 384.4 L1011.5 384.2 L1012.2 384.6 L1013.0 384.8 L1013.8 384.7 L1014.5 384.5 L1015.2 384.7 L1016.0 384.6 L1016.8 384.6 L1017.5 384.7 L1018.2 384.5 L1019.0 384.4 L1019.8 384.6 L1020.5 384.7 L1021.2 384.9 L1022.0 384.7 L1022.8 384.9 L1023.5 384.9 L1024.2 384.8 L1025.0 384.9 L1025.8 384.6 L1026.5 384.4 L1027.2 384.6 L1028.0 384.4 L1028.8 384.5 L1029.5 384.6 L1030.2 384.7 L1031.0 384.5 L1031.8 384.6 L1032.5 384.3 L1033.2 384.3 L1034.0 384.5 L1034.8 384.3 L1035.5 384.1 L1036.2 384.2 L1037.0 384.1 L1037.8 383.9 L1038.5 383.9 L1039.2 383.8 L1040.0 383.6 L1040.8 383.5 L1041.5 383.4 L1041.6 383.2 L1042.2 383.1 L1043.0 383.1 L1043.8 383.1 L1044.5 383.4 L1045.2 383.5 L1046.0 383.9 L1046.8 383.8 L1047.5 384.1 L1048.2 384.1 L1049.0 384.2 L1049.8 384.2 L1050.5 384.5 L1051.2 384.6 L1052.0 384.6 L1052.8 384.4 L1053.5 384.3 L1054.2 384.3 L1055.0 384.7 L1055.8 384.6 L1056.5 384.7 L1057.2 384.8 L1058.0 384.5 L1058.8 384.5 L1059.5 384.5 L1060.2 384.4 L1061.0 384.4 L1061.8 384.6 L1062.5 384.4 L1063.2 384.6 L1064.0 384.5 L1064.8 384.6 L1065.5 384.5 L1066.2 384.6 L1067.0 384.6 L1067.8 384.7 L1068.5 384.9 L1069.2 384.8 L1070.0 384.5 L1070.8 384.5 L1071.5 384.7 L1072.2 384.7 L1073.0 384.8 L1073.8 384.7 L1074.5 384.9 L1075.2 384.9 L1076.0 384.8 L1076.8 384.8 L1077.5 384.5" fill="none" stroke="#4d98ff" stroke-width="6.8" stroke-linejoin="round" stroke-linecap="butt"/>
<path d="M176.0 562.7 L176.8 562.8 L177.5 562.8 L178.2 562.8 L179.0 562.8 L179.8 562.7 L180.5 562.7 L181.2 562.8 L182.0 562.7 L182.8 562.7 L183.5 562.8 L184.2 562.8 L185.0 562.9 L185.8 562.8 L186.5 562.9 L187.2 562.8 L188.0 562.8 L188.8 562.9 L189.5 562.8 L190.2 562.9 L191.0 562.9 L191.8 562.8 L192.5 562.8 L193.2 562.8 L194.0 562.8 L194.8 562.7 L195.5 562.8 L196.2 562.8 L197.0 562.8 L197.8 562.9 L198.5 562.9 L199.2 562.9 L200.0 562.9 L200.8 562.9 L201.5 562.8 L202.2 562.9 L203.0 562.9 L203.8 562.8 L204.5 562.7 L205.2 562.7 L206.0 562.8 L206.8 562.8 L207.5 562.8 L208.2 562.8 L209.0 562.8 L209.8 562.8 L210.5 562.7 L211.2 562.8 L212.0 562.8 L212.8 562.9 L213.5 562.9 L214.2 562.9 L215.0 562.9 L215.8 563.0 L216.5 562.9 L217.2 562.8 L218.0 562.9 L218.8 562.9 L219.5 563.0 L220.2 562.9 L221.0 562.9 L221.8 562.8 L222.5 562.9 L223.2 562.9 L224.0 562.8 L224.8 562.7 L225.5 562.8 L226.2 562.9 L227.0 562.8 L227.8 562.8 L228.5 562.8 L229.2 562.7 L230.0 562.7 L230.8 562.8 L231.5 562.9 L232.2 562.7 L233.0 562.8 L233.8 562.7 L234.5 562.8 L235.2 562.7 L236.0 562.8 L236.8 562.9 L237.5 562.9 L238.2 562.9 L239.0 562.8 L239.8 562.7 L240.5 562.8 L241.2 562.7 L242.0 562.7 L242.8 562.7 L243.5 562.8 L244.2 562.7 L245.0 562.6 L245.8 562.8 L246.5 562.7 L247.2 562.8 L248.0 562.9 L248.8 562.8 L249.5 562.8 L250.2 562.8 L251.0 562.8 L251.8 562.8 L252.5 562.8 L253.2 562.8 L254.0 562.9 L254.8 562.8 L255.5 562.8 L256.2 562.8 L257.0 562.8 L257.8 562.7 L258.5 562.8 L259.2 562.8 L260.0 562.8 L260.8 562.7 L261.5 562.7 L262.2 562.7 L263.0 562.6 L263.8 562.7 L264.5 562.8 L265.2 562.7 L266.0 562.7 L266.8 562.7 L267.5 562.8 L268.2 562.7 L269.0 562.8 L269.8 562.8 L270.5 562.7 L271.2 562.6 L272.0 562.7 L272.8 562.8 L273.5 562.7 L274.2 562.6 L275.0 562.7 L275.8 562.6 L276.5 562.6 L277.2 562.5 L278.0 562.5 L278.8 562.5 L279.5 562.4 L280.2 562.4 L281.0 562.4 L281.8 562.2 L282.5 562.1 L283.2 562.0 L284.0 561.6 L284.8 561.1 L285.5 559.8 L286.2 553.7 L287.0 532.7 L287.8 486.2 L288.5 431.4 L289.0 415.3 L289.2 418.4 L290.0 462.9 L290.8 517.2 L291.5 547.9 L292.2 558.3 L293.0 560.8 L293.8 561.5 L294.5 561.8 L295.2 562.1 L296.0 562.2 L296.8 562.3 L297.5 562.3 L298.2 562.4 L299.0 562.4 L299.8 562.5 L300.5 562.6 L301.2 562.6 L302.0 562.6 L302.8 562.7 L303.5 562.7 L304.2 562.8 L305.0 562.7 L305.8 562.6 L306.5 562.6 L307.2 562.8 L308.0 562.6 L308.8 562.6 L309.5 562.6 L310.2 562.6 L311.0 562.6 L311.8 562.9 L312.5 562.7 L313.2 562.5 L314.0 562.8 L314.8 562.9 L315.5 563.1 L316.2 562.9 L317.0 563.1 L317.8 563.1 L318.5 562.9 L319.2 562.9 L320.0 563.0 L320.8 563.0 L321.5 562.9 L322.2 562.8 L323.0 562.7 L323.8 562.6 L324.5 562.5 L325.2 562.6 L326.0 562.6 L326.8 562.8 L327.5 562.6 L328.2 562.8 L329.0 562.9 L329.8 563.0 L330.5 563.1 L331.2 563.2 L332.0 563.0 L332.8 562.7 L333.5 562.9 L334.2 562.7 L335.0 562.6 L335.8 562.8 L336.5 562.8 L337.2 562.7 L338.0 563.0 L338.8 562.9 L339.5 562.8 L340.2 562.7 L341.0 562.9 L341.8 562.8 L342.5 562.9 L343.2 562.8 L344.0 562.7 L344.8 562.7 L345.5 562.9 L346.2 562.7 L347.0 562.9 L347.8 563.0 L348.5 563.1 L349.2 563.1 L350.0 562.8 L350.8 562.8 L351.5 563.0 L352.2 562.7 L353.0 562.6 L353.8 562.6 L354.5 562.7 L355.2 562.7 L356.0 562.7 L356.8 562.9 L357.5 562.6 L358.2 562.5 L359.0 562.4 L359.8 562.4 L360.5 562.4 L361.2 562.8 L362.0 562.9 L362.8 562.7 L363.5 562.7 L364.2 562.7 L365.0 562.6 L365.8 562.6 L366.5 562.8 L367.2 562.8 L368.0 562.7 L368.8 562.6 L369.5 562.6 L370.2 562.5 L371.0 562.7 L371.8 562.8 L372.5 562.7 L373.2 562.6 L374.0 562.5 L374.8 562.6 L375.5 562.7 L376.2 562.9 L377.0 562.8 L377.8 562.9 L378.5 562.9 L379.2 562.8 L380.0 562.8 L380.8 562.8 L381.5 562.9 L382.2 562.8 L383.0 562.9 L383.8 562.8 L384.5 562.7 L385.2 562.8 L386.0 562.9 L386.8 562.6 L387.5 562.7 L388.2 562.7 L389.0 562.9 L389.8 563.0 L390.5 562.9 L391.2 563.0 L392.0 563.1 L392.8 562.9 L393.5 562.8 L394.2 562.6 L395.0 562.8 L395.8 562.9 L396.5 563.0 L397.2 563.1 L398.0 563.0 L398.8 563.0 L399.5 563.0 L400.2 562.7 L401.0 562.8 L401.8 562.6 L402.5 562.5 L403.2 562.7 L404.0 562.6 L404.8 562.5 L405.5 562.4 L406.2 562.7 L407.0 562.6 L407.8 562.5 L408.5 562.8 L409.2 562.6 L410.0 562.8 L410.8 562.9 L411.5 563.0 L412.2 563.1 L413.0 563.0 L413.8 563.1 L414.5 562.8 L415.2 562.9 L416.0 562.9 L416.8 562.9 L417.5 562.7 L418.2 562.8 L419.0 563.0 L419.8 562.7 L420.5 562.7 L421.2 562.8 L422.0 562.9 L422.8 562.8 L423.5 562.6 L424.2 562.6 L425.0 562.7 L425.8 562.9 L426.5 562.8 L427.2 562.7 L428.0 562.7 L428.8 562.7 L429.5 562.7 L430.2 562.5 L431.0 562.6 L431.8 562.9 L432.5 562.8 L433.2 562.9 L434.0 562.7 L434.8 562.8 L435.5 562.9 L436.2 563.0 L437.0 562.9 L437.8 562.8 L438.5 562.9 L439.2 563.0 L440.0 562.8 L440.8 562.6 L441.5 562.8 L442.2 563.0 L443.0 562.9 L443.8 562.8 L444.5 562.9 L445.2 562.7 L446.0 562.7 L446.8 562.6 L447.5 562.7 L448.2 562.7 L449.0 562.6 L449.8 562.8 L450.5 563.0 L451.2 562.8 L452.0 562.9 L452.8 562.8 L453.5 563.0 L454.2 562.9 L455.0 562.8 L455.8 562.7 L456.5 562.5 L457.2 562.6 L458.0 562.6 L458.8 562.6 L459.5 562.6 L460.2 562.6 L461.0 562.8 L461.8 562.6 L462.5 562.9 L463.2 562.9 L464.0 562.9 L464.8 562.8 L465.5 563.0 L466.2 563.0 L467.0 563.0 L467.8 562.9 L468.5 562.9 L469.2 563.0 L470.0 562.9 L470.8 563.0 L471.5 563.1 L472.2 563.0 L473.0 562.8 L473.8 562.7 L474.5 562.8 L475.2 562.9 L476.0 563.0 L476.8 563.1 L477.5 562.9 L478.2 562.7 L479.0 562.6 L479.8 562.6 L480.5 562.7 L481.2 562.9 L482.0 563.0 L482.8 562.8 L483.5 563.0 L484.2 562.8 L485.0 562.8 L485.8 562.9 L486.5 562.7 L487.2 562.5 L488.0 562.8 L488.8 562.7 L489.5 562.7 L490.2 562.7 L491.0 562.8 L491.8 562.6 L492.5 562.6 L493.2 562.6 L494.0 562.7 L494.8 562.6 L495.5 562.7 L496.2 562.9 L497.0 562.8 L497.8 562.8 L498.5 562.6 L499.2 562.6 L500.0 562.7 L500.8 562.6 L501.5 562.8 L502.2 563.0 L503.0 562.7 L503.8 562.9 L504.5 562.8 L505.2 562.9 L506.0 562.9 L506.8 562.8 L507.5 562.8 L508.2 562.8 L509.0 562.9 L509.8 562.7 L510.5 562.8 L511.2 562.9 L512.0 562.8 L512.8 562.7 L513.5 562.4 L514.2 562.3 L515.0 562.0 L515.8 561.4 L516.5 558.2 L517.2 549.2 L518.0 533.1 L518.8 518.4 L519.1 516.4 L519.5 519.3 L520.2 534.8 L521.0 550.3 L521.8 558.7 L522.5 561.6 L523.2 562.1 L524.0 562.2 L524.8 562.5 L525.5 562.6 L526.2 562.6 L527.0 562.7 L527.8 562.7 L528.5 562.6 L529.2 562.5 L530.0 562.3 L530.8 562.6 L531.5 562.7 L532.2 562.7 L533.0 562.7 L533.8 562.6 L534.5 562.4 L535.2 562.2 L536.0 561.9 L536.8 560.3 L537.5 557.6 L538.2 553.2 L539.0 548.2 L539.8 544.8 L540.0 544.5 L540.5 545.2 L541.2 549.1 L542.0 554.2 L542.8 558.3 L543.5 560.9 L544.2 561.9 L545.0 562.2 L545.8 562.3 L546.5 562.3 L547.2 562.6 L548.0 562.7 L548.8 562.6 L549.5 562.5 L550.2 562.6 L551.0 562.7 L551.8 562.9 L552.5 562.9 L553.2 562.9 L554.0 562.7 L554.8 562.7 L555.5 562.6 L556.2 562.7 L557.0 562.7 L557.8 562.6 L558.5 562.6 L559.2 562.8 L560.0 562.6 L560.8 562.8 L561.5 562.9 L562.2 563.1 L563.0 562.9 L563.8 562.9 L564.5 562.9 L565.2 562.9 L566.0 563.1 L566.8 563.0 L567.5 562.8 L568.2 563.0 L569.0 562.9 L569.8 562.9 L570.5 562.9 L571.2 562.7 L572.0 562.8 L572.8 562.9 L573.5 562.8 L574.2 562.8 L575.0 562.8 L575.8 562.6 L576.5 562.7 L577.2 562.5 L578.0 562.6 L578.8 562.7 L579.5 562.7 L580.2 562.8 L581.0 563.0 L581.8 563.1 L582.5 562.8 L583.2 562.9 L584.0 562.9 L584.8 562.6 L585.5 562.6 L586.2 562.6 L587.0 562.5 L587.8 562.6 L588.5 562.8 L589.2 562.7 L590.0 562.9 L590.8 562.9 L591.5 562.7 L592.2 562.9 L593.0 562.9 L593.8 563.0 L594.5 563.0 L595.2 563.0 L596.0 562.8 L596.8 562.9 L597.5 563.0 L598.2 563.1 L599.0 562.9 L599.8 562.9 L600.5 562.8 L601.2 562.6 L602.0 562.4 L602.8 562.3 L603.5 562.3 L604.2 562.3 L605.0 562.4 L605.8 562.6 L606.5 562.6 L607.2 562.5 L608.0 562.6 L608.8 562.4 L609.5 562.4 L610.2 562.5 L611.0 562.3 L611.8 562.1 L612.5 562.2 L613.2 562.0 L614.0 561.3 L614.8 559.8 L615.5 555.7 L616.2 546.4 L617.0 529.7 L617.8 507.3 L618.5 487.2 L619.1 480.4 L619.2 480.6 L620.0 492.1 L620.8 514.0 L621.5 535.3 L622.2 549.8 L623.0 557.3 L623.8 560.1 L624.5 561.1 L625.2 561.5 L626.0 561.7 L626.8 562.0 L627.5 562.0 L628.2 562.0 L629.0 562.2 L629.8 562.3 L630.5 562.5 L631.2 562.4 L632.0 562.4 L632.8 562.5 L633.5 562.4 L634.2 562.7 L635.0 562.6 L635.8 562.5 L636.5 562.6 L637.2 562.5 L638.0 562.7 L638.8 562.6 L639.5 562.5 L640.2 562.4 L641.0 562.7 L641.8 562.6 L642.5 562.8 L643.2 562.8 L644.0 563.0 L644.8 562.9 L645.5 562.7 L646.2 562.7 L647.0 562.9 L647.8 562.9 L648.5 562.8 L649.2 562.7 L650.0 562.8 L650.8 563.1 L651.5 563.0 L652.2 562.8 L653.0 562.6 L653.8 562.6 L654.5 562.5 L655.2 562.5 L656.0 562.5 L656.8 562.7 L657.5 563.0 L658.2 562.8 L659.0 563.1 L659.8 563.0 L660.5 563.1 L661.2 563.2 L662.0 563.3 L662.8 563.0 L663.5 562.9 L664.2 562.9 L665.0 563.1 L665.8 562.9 L666.5 562.8 L667.2 563.0 L668.0 562.7 L668.8 562.4 L669.5 561.7 L670.2 560.1 L671.0 557.3 L671.8 554.1 L672.5 552.6 L672.5 552.6 L673.2 554.0 L674.0 557.2 L674.8 560.4 L675.5 562.0 L676.2 562.6 L677.0 562.8 L677.8 563.0 L678.5 563.0 L679.2 562.9 L680.0 562.8 L680.8 563.0 L681.5 563.1 L682.2 563.2 L683.0 563.1 L683.8 563.1 L684.5 562.9 L685.2 563.1 L686.0 562.9 L686.8 563.0 L687.5 563.1 L688.2 563.2 L689.0 563.0 L689.8 562.9 L690.5 563.2 L691.2 563.2 L692.0 563.3 L692.8 563.4 L693.5 563.3 L694.2 563.4 L695.0 563.4 L695.8 563.2 L696.5 563.1 L697.2 563.0 L698.0 563.0 L698.8 563.3 L699.5 563.1 L700.2 563.1 L701.0 563.0 L701.8 562.9 L702.5 563.1 L703.2 563.0 L704.0 562.9 L704.8 562.9 L705.5 563.1 L706.2 563.2 L707.0 563.0 L707.8 563.0 L708.5 563.3 L709.2 563.1 L710.0 563.2 L710.8 563.2 L711.5 563.3 L712.2 563.3 L713.0 563.4 L713.8 563.4 L714.5 563.2 L715.2 563.1 L716.0 563.0 L716.8 563.2 L717.5 563.1 L718.2 563.0 L719.0 563.3 L719.8 563.2 L720.5 563.4 L721.2 563.2 L722.0 563.2 L722.8 563.1 L723.5 563.3 L724.2 563.4 L725.0 563.4 L725.8 563.5 L726.5 563.6 L727.2 563.4 L728.0 563.4 L728.8 563.4 L729.5 563.2 L730.2 563.4 L731.0 563.4 L731.8 563.5 L732.5 563.3 L733.2 563.4 L734.0 563.4 L734.8 563.5 L735.5 563.2 L736.2 563.2 L737.0 563.3 L737.8 563.1 L738.5 563.3 L739.2 563.4 L740.0 563.4 L740.8 563.5 L741.5 563.5 L742.2 563.3 L743.0 563.3 L743.8 563.6 L744.5 563.4 L745.2 563.4 L746.0 563.2 L746.8 563.2 L747.5 563.1 L748.2 563.5 L749.0 563.6 L749.8 563.7 L750.5 563.8 L751.2 563.7 L752.0 563.8 L752.8 563.7 L753.5 563.6 L754.2 563.7 L755.0 563.8 L755.8 563.9 L756.5 563.7 L757.2 563.7 L758.0 563.6 L758.8 563.8 L759.5 563.9 L760.2 563.6 L761.0 563.8 L761.8 563.5 L762.5 563.3 L763.2 563.5 L764.0 563.4 L764.8 563.5 L765.5 563.6 L766.2 563.4 L767.0 563.5 L767.8 563.4 L768.5 563.5 L769.2 563.4 L770.0 563.6 L770.8 563.7 L771.5 563.5 L772.2 563.4 L773.0 563.4 L773.8 563.4 L774.5 563.3 L775.2 563.3 L776.0 563.5 L776.8 563.6 L777.5 563.8 L778.2 563.9 L779.0 564.0 L779.8 563.8 L780.5 563.6 L781.2 563.5 L782.0 563.5 L782.8 563.6 L783.5 563.6 L784.2 563.6 L785.0 563.7 L785.8 563.6 L786.5 563.6 L787.2 563.8 L788.0 563.9 L788.8 563.7 L789.5 563.6 L790.2 563.7 L791.0 563.5 L791.8 563.4 L792.5 563.5 L793.2 563.6 L794.0 563.4 L794.8 563.3 L795.5 563.3 L796.2 563.5 L797.0 563.5 L797.8 563.6 L798.5 563.3 L799.2 562.4 L800.0 560.2 L800.8 557.8 L801.5 555.6 L802.0 555.1 L802.2 555.2 L803.0 556.9 L803.8 559.4 L804.5 561.3 L805.2 562.6 L806.0 563.1 L806.8 563.6 L807.5 563.6 L808.2 563.5 L809.0 563.4 L809.8 563.5 L810.5 563.7 L811.2 563.8 L812.0 564.0 L812.8 564.0 L813.5 563.8 L814.2 563.6 L815.0 563.8 L815.8 563.9 L816.5 563.9 L817.2 564.0 L818.0 563.9 L818.8 563.8 L819.5 563.7 L820.2 563.5 L821.0 563.7 L821.8 563.9 L822.5 564.1 L823.2 564.0 L824.0 564.0 L824.8 564.1 L825.5 564.1 L826.2 564.1 L827.0 564.0 L827.8 563.9 L828.5 563.8 L829.2 563.7 L830.0 563.8 L830.8 564.1 L831.5 564.0 L832.2 563.9 L833.0 563.8 L833.8 563.8 L834.5 564.0 L835.2 563.9 L836.0 564.1 L836.8 563.9 L837.5 563.8 L838.2 563.9 L839.0 563.8 L839.8 564.0 L840.5 564.1 L841.2 564.2 L842.0 564.2 L842.8 563.9 L843.5 563.9 L844.2 564.0 L845.0 563.9 L845.8 563.9 L846.5 564.0 L847.2 564.2 L848.0 563.9 L848.8 564.0 L849.5 563.9 L850.2 564.0 L851.0 564.1 L851.8 564.3 L852.5 564.2 L853.2 564.0 L854.0 564.2 L854.8 564.0 L855.5 563.9 L856.2 564.1 L857.0 564.0 L857.8 563.9 L858.5 564.1 L859.2 564.3 L860.0 564.1 L860.8 564.0 L861.5 563.9 L862.2 563.8 L863.0 563.7 L863.8 564.1 L864.5 563.8 L865.2 563.8 L866.0 563.7 L866.8 563.6 L867.5 563.8 L868.2 563.9 L869.0 564.0 L869.8 564.0 L870.5 563.8 L871.2 563.1 L872.0 562.1 L872.8 560.7 L873.5 558.3 L874.2 555.6 L875.0 553.3 L875.7 552.3 L875.8 552.3 L876.5 553.0 L877.2 554.6 L878.0 555.9 L878.8 555.9 L879.5 554.4 L880.2 552.2 L881.0 550.4 L881.5 550.1 L881.8 550.3 L882.5 552.0 L883.2 555.0 L884.0 558.0 L884.8 560.6 L885.5 562.0 L886.2 563.2 L887.0 563.8 L887.8 563.8 L888.5 564.1 L889.2 564.1 L890.0 564.1 L890.8 563.9 L891.5 563.9 L892.2 564.2 L893.0 564.1 L893.8 564.0 L894.5 563.9 L895.2 563.8 L896.0 563.9 L896.8 564.2 L897.5 564.0 L898.2 564.0 L899.0 564.3 L899.8 564.5 L900.5 564.6 L901.2 564.3 L902.0 564.2 L902.8 564.4 L903.5 564.4 L904.2 564.4 L905.0 564.3 L905.8 564.1 L906.5 564.1 L907.2 564.3 L908.0 564.4 L908.8 564.4 L909.5 564.3 L910.2 564.3 L911.0 564.3 L911.8 564.3 L912.5 564.4 L913.2 564.3 L914.0 564.3 L914.8 564.5 L915.5 564.6 L916.2 564.3 L917.0 564.5 L917.8 564.6 L918.5 564.3 L919.2 564.2 L920.0 564.0 L920.8 563.5 L921.5 563.0 L922.2 561.5 L923.0 559.7 L923.8 558.5 L923.9 558.5 L924.5 559.0 L925.2 560.7 L926.0 562.7 L926.8 563.8 L927.5 564.2 L928.2 564.5 L929.0 564.3 L929.8 564.3 L930.5 564.3 L931.2 564.2 L932.0 564.3 L932.8 564.3 L933.5 564.3 L934.2 564.3 L935.0 564.3 L935.8 564.3 L936.5 564.4 L937.2 564.6 L938.0 564.7 L938.8 564.8 L939.5 564.8 L940.2 564.6 L941.0 564.7 L941.8 564.5 L942.5 564.3 L943.2 564.4 L944.0 564.5 L944.8 564.4 L945.5 564.5 L946.2 564.4 L947.0 564.7 L947.8 564.6 L948.5 564.5 L949.2 564.5 L950.0 564.7 L950.8 564.8 L951.5 564.7 L952.2 564.6 L953.0 564.6 L953.8 564.4 L954.5 564.4 L955.2 564.6 L956.0 564.7 L956.8 564.5 L957.5 564.7 L958.2 564.6 L959.0 564.8 L959.8 564.6 L960.5 564.5 L961.2 564.5 L962.0 564.7 L962.8 564.6 L963.5 564.8 L964.2 564.8 L965.0 564.7 L965.8 564.6 L966.5 564.6 L967.2 564.5 L968.0 564.5 L968.8 564.6 L969.5 564.8 L970.2 564.8 L971.0 564.6 L971.8 564.5 L972.5 564.5 L973.2 564.6 L974.0 564.5 L974.8 564.4 L975.5 564.4 L976.2 564.4 L977.0 564.3 L977.8 564.5 L978.5 564.7 L979.2 564.7 L980.0 564.8 L980.8 564.9 L981.5 565.0 L982.2 565.0 L983.0 564.9 L983.8 564.9 L984.5 564.6 L985.2 564.8 L986.0 564.7 L986.8 564.7 L987.5 564.9 L988.2 564.7 L989.0 564.6 L989.8 564.8 L990.5 564.8 L991.2 564.6 L992.0 564.5 L992.8 564.5 L993.5 564.4 L994.2 564.7 L995.0 564.6 L995.8 564.6 L996.5 564.6 L997.2 564.7 L998.0 564.7 L998.8 564.8 L999.5 564.9 L1000.2 564.8 L1001.0 564.6 L1001.8 564.9 L1002.5 564.9 L1003.2 564.7 L1004.0 564.7 L1004.8 564.9 L1005.5 565.1 L1006.2 564.8 L1007.0 564.6 L1007.8 564.7 L1008.5 564.7 L1009.2 564.9 L1010.0 565.0 L1010.8 564.9 L1011.5 564.8 L1012.2 564.9 L1013.0 565.0 L1013.8 564.8 L1014.5 564.8 L1015.2 564.6 L1016.0 564.8 L1016.8 564.6 L1017.5 564.9 L1018.2 564.9 L1019.0 564.9 L1019.8 564.7 L1020.5 564.7 L1021.2 564.8 L1022.0 565.0 L1022.8 565.0 L1023.5 564.8 L1024.2 565.1 L1025.0 565.1 L1025.8 565.0 L1026.5 564.9 L1027.2 564.8 L1028.0 565.0 L1028.8 564.8 L1029.5 564.9 L1030.2 565.0 L1031.0 564.9 L1031.8 565.0 L1032.5 565.2 L1033.2 565.2 L1034.0 565.2 L1034.8 565.0 L1035.5 564.8 L1036.2 564.8 L1037.0 564.7 L1037.8 564.7 L1038.5 564.9 L1039.2 564.7 L1040.0 564.8 L1040.8 564.9 L1041.5 564.6 L1042.2 564.7 L1043.0 564.5 L1043.8 564.2 L1044.5 564.1 L1045.2 563.9 L1046.0 564.0 L1046.7 564.0 L1046.8 564.2 L1047.5 564.3 L1048.2 564.1 L1049.0 564.2 L1049.8 564.3 L1050.5 564.3 L1051.2 564.3 L1052.0 564.4 L1052.8 564.7 L1053.5 564.7 L1054.2 564.6 L1055.0 564.7 L1055.8 564.8 L1056.5 564.9 L1057.2 564.9 L1058.0 565.0 L1058.8 564.9 L1059.5 565.1 L1060.2 565.1 L1061.0 565.0 L1061.8 565.1 L1062.5 565.1 L1063.2 565.1 L1064.0 565.2 L1064.8 565.2 L1065.5 565.2 L1066.2 565.0 L1067.0 565.2 L1067.8 565.3 L1068.5 565.2 L1069.2 565.2 L1070.0 565.1 L1070.8 565.3 L1071.5 565.3 L1072.2 565.1 L1073.0 565.3 L1073.8 565.5 L1074.5 565.3 L1075.2 565.5 L1076.0 565.3 L1076.8 565.1 L1077.5 565.3" fill="none" stroke="#ff7070" stroke-width="6.8" stroke-linejoin="round" stroke-linecap="butt"/>
<path d="M176.0 750.1 L176.8 750.1 L177.5 750.1 L178.2 750.1 L179.0 750.0 L179.8 750.1 L180.5 750.2 L181.2 750.3 L182.0 750.3 L182.8 750.2 L183.5 750.2 L184.2 750.2 L185.0 750.1 L185.8 750.1 L186.5 750.1 L187.2 750.2 L188.0 750.3 L188.8 750.3 L189.5 750.3 L190.2 750.2 L191.0 750.2 L191.8 750.2 L192.5 750.2 L193.2 750.3 L194.0 750.3 L194.8 750.2 L195.5 750.2 L196.2 750.2 L197.0 750.2 L197.8 750.1 L198.5 750.2 L199.2 750.1 L200.0 750.2 L200.8 750.3 L201.5 750.3 L202.2 750.2 L203.0 750.3 L203.8 750.3 L204.5 750.3 L205.2 750.3 L206.0 750.3 L206.8 750.2 L207.5 750.2 L208.2 750.2 L209.0 750.1 L209.8 750.1 L210.5 750.2 L211.2 750.1 L212.0 750.1 L212.8 750.1 L213.5 750.1 L214.2 750.2 L215.0 750.2 L215.8 750.1 L216.5 750.3 L217.2 750.2 L218.0 750.2 L218.8 750.1 L219.5 750.2 L220.2 750.1 L221.0 750.1 L221.8 750.2 L222.5 750.2 L223.2 750.2 L224.0 750.3 L224.8 750.2 L225.5 750.1 L226.2 750.1 L227.0 750.2 L227.8 750.2 L228.5 750.1 L229.2 750.1 L230.0 750.1 L230.8 750.1 L231.5 750.1 L232.2 750.1 L233.0 750.2 L233.8 750.3 L234.5 750.3 L235.2 750.4 L236.0 750.2 L236.8 750.1 L237.5 750.3 L238.2 750.3 L239.0 750.2 L239.8 750.3 L240.5 750.3 L241.2 750.3 L242.0 750.2 L242.8 750.1 L243.5 750.1 L244.2 750.1 L245.0 750.1 L245.8 750.2 L246.5 750.2 L247.2 750.1 L248.0 750.0 L248.8 750.0 L249.5 750.1 L250.2 750.1 L251.0 750.1 L251.8 750.1 L252.5 750.2 L253.2 750.2 L254.0 750.1 L254.8 750.1 L255.5 750.0 L256.2 750.0 L257.0 750.1 L257.8 750.1 L258.5 750.0 L259.2 750.1 L260.0 750.1 L260.8 750.2 L261.5 750.1 L262.2 750.1 L263.0 750.2 L263.8 750.2 L264.5 750.3 L265.2 750.2 L266.0 750.1 L266.8 750.1 L267.5 750.0 L268.2 750.1 L269.0 750.0 L269.8 750.1 L270.5 750.2 L271.2 750.2 L272.0 750.0 L272.8 750.0 L273.5 750.0 L274.2 750.0 L275.0 749.9 L275.8 750.0 L276.5 750.0 L277.2 749.9 L278.0 750.0 L278.8 750.0 L279.5 750.0 L280.2 749.9 L281.0 749.9 L281.8 749.9 L282.5 749.8 L283.2 749.7 L284.0 749.5 L284.8 749.2 L285.5 748.8 L286.2 748.2 L287.0 745.6 L287.8 735.4 L288.5 706.8 L289.2 656.8 L290.0 612.8 L290.3 607.5 L290.8 617.8 L291.5 666.2 L292.2 713.4 L293.0 738.1 L293.8 746.3 L294.5 748.5 L295.2 749.1 L296.0 749.3 L296.8 749.6 L297.5 749.8 L298.2 749.8 L299.0 749.8 L299.8 749.9 L300.5 749.9 L301.2 750.0 L302.0 750.0 L302.8 750.0 L303.5 749.9 L304.2 750.0 L305.0 750.0 L305.8 750.1 L306.5 750.3 L307.2 750.1 L308.0 749.9 L308.8 750.2 L309.5 749.9 L310.2 750.2 L311.0 750.0 L311.8 750.2 L312.5 750.3 L313.2 750.4 L314.0 750.3 L314.8 750.4 L315.5 750.2 L316.2 750.2 L317.0 750.1 L317.8 750.3 L318.5 750.4 L319.2 750.3 L320.0 750.2 L320.8 750.0 L321.5 749.9 L322.2 750.0 L323.0 750.1 L323.8 750.3 L324.5 750.3 L325.2 750.1 L326.0 750.1 L326.8 750.2 L327.5 750.2 L328.2 750.0 L329.0 750.2 L329.8 750.3 L330.5 750.1 L331.2 750.1 L332.0 750.1 L332.8 750.3 L333.5 750.1 L334.2 750.0 L335.0 750.1 L335.8 750.3 L336.5 750.1 L337.2 750.0 L338.0 750.1 L338.8 750.3 L339.5 750.3 L340.2 750.2 L341.0 750.4 L341.8 750.4 L342.5 750.1 L343.2 750.3 L344.0 750.1 L344.8 750.1 L345.5 750.3 L346.2 750.2 L347.0 750.3 L347.8 750.1 L348.5 750.3 L349.2 750.1 L350.0 750.0 L350.8 750.1 L351.5 750.0 L352.2 750.1 L353.0 750.3 L353.8 750.4 L354.5 750.1 L355.2 750.0 L356.0 750.1 L356.8 750.1 L357.5 750.3 L358.2 750.2 L359.0 750.0 L359.8 750.0 L360.5 750.2 L361.2 750.1 L362.0 750.3 L362.8 750.5 L363.5 750.4 L364.2 750.4 L365.0 750.4 L365.8 750.2 L366.5 750.4 L367.2 750.3 L368.0 750.4 L368.8 750.3 L369.5 750.4 L370.2 750.4 L371.0 750.4 L371.8 750.3 L372.5 750.1 L373.2 750.3 L374.0 750.2 L374.8 750.2 L375.5 750.1 L376.2 749.9 L377.0 749.9 L377.8 750.1 L378.5 750.0 L379.2 750.3 L380.0 750.2 L380.8 750.2 L381.5 750.1 L382.2 750.2 L383.0 750.0 L383.8 750.1 L384.5 750.3 L385.2 750.1 L386.0 750.2 L386.8 750.1 L387.5 750.1 L388.2 749.9 L389.0 749.8 L389.8 750.2 L390.5 750.3 L391.2 750.4 L392.0 750.5 L392.8 750.6 L393.5 750.3 L394.2 750.3 L395.0 750.2 L395.8 750.3 L396.5 750.4 L397.2 750.4 L398.0 750.6 L398.8 750.2 L399.5 750.3 L400.2 750.3 L401.0 750.4 L401.8 750.4 L402.5 750.4 L403.2 750.3 L404.0 750.4 L404.8 750.3 L405.5 750.3 L406.2 750.4 L407.0 750.4 L407.8 750.2 L408.5 750.1 L409.2 750.1 L410.0 750.2 L410.8 750.4 L411.5 750.5 L412.2 750.3 L413.0 750.2 L413.8 750.4 L414.5 750.2 L415.2 750.2 L416.0 750.0 L416.8 749.9 L417.5 750.0 L418.2 750.2 L419.0 750.2 L419.8 750.2 L420.5 750.4 L421.2 750.4 L422.0 750.1 L422.8 750.0 L423.5 750.3 L424.2 750.5 L425.0 750.5 L425.8 750.4 L426.5 750.3 L427.2 750.1 L428.0 750.0 L428.8 750.0 L429.5 750.2 L430.2 750.4 L431.0 750.4 L431.8 750.2 L432.5 750.1 L433.2 750.0 L434.0 750.3 L434.8 750.1 L435.5 750.3 L436.2 750.3 L437.0 750.3 L437.8 750.5 L438.5 750.2 L439.2 750.2 L440.0 750.1 L440.8 749.9 L441.5 749.8 L442.2 749.9 L443.0 749.9 L443.8 749.8 L444.5 750.2 L445.2 750.1 L446.0 750.3 L446.8 750.3 L447.5 750.4 L448.2 750.4 L449.0 750.5 L449.8 750.5 L450.5 750.5 L451.2 750.4 L452.0 750.4 L452.8 750.4 L453.5 750.4 L454.2 750.3 L455.0 750.1 L455.8 750.3 L456.5 750.2 L457.2 750.0 L458.0 750.0 L458.8 750.2 L459.5 750.1 L460.2 750.1 L461.0 750.2 L461.8 750.4 L462.5 750.2 L463.2 750.2 L464.0 750.1 L464.8 750.0 L465.5 750.2 L466.2 750.0 L467.0 750.3 L467.8 750.1 L468.5 750.0 L469.2 750.2 L470.0 750.3 L470.8 750.2 L471.5 750.2 L472.2 750.2 L473.0 750.3 L473.8 750.1 L474.5 750.3 L475.2 750.5 L476.0 750.4 L476.8 750.5 L477.5 750.6 L478.2 750.4 L479.0 750.5 L479.8 750.5 L480.5 750.4 L481.2 750.1 L482.0 750.2 L482.8 750.4 L483.5 750.2 L484.2 750.3 L485.0 750.4 L485.8 750.4 L486.5 750.1 L487.2 750.2 L488.0 750.1 L488.8 750.3 L489.5 750.3 L490.2 750.2 L491.0 750.4 L491.8 750.3 L492.5 750.2 L493.2 750.3 L494.0 750.4 L494.8 750.5 L495.5 750.5 L496.2 750.5 L497.0 750.4 L497.8 750.4 L498.5 750.3 L499.2 750.5 L500.0 750.3 L500.8 750.0 L501.5 750.2 L502.2 750.2 L503.0 750.2 L503.8 750.2 L504.5 750.1 L505.2 750.0 L506.0 749.8 L506.8 750.1 L507.5 750.3 L508.2 750.3 L509.0 750.0 L509.8 750.3 L510.5 750.3 L511.2 750.2 L512.0 749.9 L512.8 750.1 L513.5 750.1 L514.2 750.0 L515.0 749.7 L515.8 749.8 L516.5 749.3 L517.2 748.5 L518.0 745.5 L518.8 737.3 L519.5 723.0 L520.2 708.7 L520.8 704.9 L521.0 705.7 L521.8 717.2 L522.5 732.7 L523.2 743.2 L524.0 747.7 L524.8 749.4 L525.5 749.8 L526.2 750.1 L527.0 750.0 L527.8 750.1 L528.5 750.2 L529.2 750.2 L530.0 750.1 L530.8 749.9 L531.5 749.8 L532.2 750.1 L533.0 750.2 L533.8 750.1 L534.5 750.2 L535.2 750.0 L536.0 750.1 L536.8 750.1 L537.5 749.7 L538.2 749.1 L539.0 747.5 L539.8 745.1 L540.5 741.8 L541.2 738.5 L542.0 736.8 L542.1 736.8 L542.8 737.8 L543.5 740.8 L544.2 744.2 L545.0 747.0 L545.8 748.6 L546.5 749.3 L547.2 749.6 L548.0 750.0 L548.8 750.1 L549.5 750.3 L550.2 750.2 L551.0 750.0 L551.8 750.0 L552.5 750.0 L553.2 750.3 L554.0 750.1 L554.8 750.0 L555.5 750.2 L556.2 750.0 L557.0 750.3 L557.8 750.1 L558.5 750.2 L559.2 750.2 L560.0 750.4 L560.8 750.1 L561.5 750.3 L562.2 750.1 L563.0 750.2 L563.8 750.0 L564.5 750.2 L565.2 750.0 L566.0 750.0 L566.8 749.8 L567.5 749.9 L568.2 749.9 L569.0 750.2 L569.8 750.3 L570.5 750.2 L571.2 750.4 L572.0 750.2 L572.8 750.0 L573.5 750.3 L574.2 750.4 L575.0 750.4 L575.8 750.5 L576.5 750.2 L577.2 750.4 L578.0 750.4 L578.8 750.4 L579.5 750.4 L580.2 750.2 L581.0 750.0 L581.8 749.9 L582.5 750.0 L583.2 750.1 L584.0 750.1 L584.8 750.1 L585.5 750.2 L586.2 750.3 L587.0 750.4 L587.8 750.1 L588.5 750.0 L589.2 749.9 L590.0 749.9 L590.8 750.0 L591.5 749.9 L592.2 750.1 L593.0 750.0 L593.8 750.0 L594.5 750.2 L595.2 750.3 L596.0 750.1 L596.8 750.1 L597.5 750.3 L598.2 750.1 L599.0 749.9 L599.8 749.8 L600.5 750.1 L601.2 750.2 L602.0 750.3 L602.8 750.2 L603.5 750.0 L604.2 749.9 L605.0 750.1 L605.8 750.0 L606.5 749.9 L607.2 749.9 L608.0 749.9 L608.8 749.8 L609.5 749.8 L610.2 749.7 L611.0 749.5 L611.8 749.7 L612.5 749.8 L613.2 749.7 L614.0 749.4 L614.8 749.2 L615.5 749.1 L616.2 748.6 L617.0 746.7 L617.8 742.2 L618.5 732.9 L619.2 717.2 L620.0 697.0 L620.8 678.9 L621.5 672.0 L621.5 672.0 L622.2 680.7 L623.0 699.5 L623.8 719.4 L624.5 734.3 L625.2 743.0 L626.0 747.0 L626.8 748.3 L627.5 749.0 L628.2 749.3 L629.0 749.5 L629.8 749.5 L630.5 749.6 L631.2 749.8 L632.0 749.9 L632.8 750.1 L633.5 750.3 L634.2 750.1 L635.0 750.0 L635.8 750.0 L636.5 750.1 L637.2 750.0 L638.0 750.2 L638.8 750.0 L639.5 750.0 L640.2 749.9 L641.0 750.2 L641.8 750.2 L642.5 750.4 L643.2 750.1 L644.0 750.2 L644.8 750.2 L645.5 750.0 L646.2 750.2 L647.0 750.3 L647.8 750.1 L648.5 750.3 L649.2 750.4 L650.0 750.3 L650.8 750.3 L651.5 750.1 L652.2 749.9 L653.0 750.0 L653.8 750.2 L654.5 750.1 L655.2 750.1 L656.0 750.0 L656.8 750.2 L657.5 750.4 L658.2 750.5 L659.0 750.2 L659.8 750.2 L660.5 749.9 L661.2 750.0 L662.0 750.2 L662.8 750.4 L663.5 750.1 L664.2 750.1 L665.0 749.9 L665.8 750.0 L666.5 750.2 L667.2 750.1 L668.0 750.2 L668.8 750.4 L669.5 750.4 L670.2 750.1 L671.0 750.0 L671.8 749.6 L672.5 748.4 L673.2 745.8 L674.0 743.0 L674.8 741.0 L675.1 740.8 L675.5 741.2 L676.2 743.3 L677.0 746.1 L677.8 748.2 L678.5 749.4 L679.2 749.9 L680.0 750.1 L680.8 750.2 L681.5 750.0 L682.2 750.0 L683.0 749.9 L683.8 749.8 L684.5 750.1 L685.2 750.0 L686.0 750.0 L686.8 750.0 L687.5 750.1 L688.2 750.0 L689.0 750.1 L689.8 749.9 L690.5 750.2 L691.2 750.1 L692.0 750.2 L692.8 750.2 L693.5 750.2 L694.2 750.1 L695.0 750.1 L695.8 750.2 L696.5 750.2 L697.2 750.2 L698.0 750.1 L698.8 750.2 L699.5 750.0 L700.2 750.1 L701.0 750.2 L701.8 750.2 L702.5 750.2 L703.2 750.2 L704.0 750.1 L704.8 750.3 L705.5 750.4 L706.2 750.4 L707.0 750.5 L707.8 750.4 L708.5 750.2 L709.2 750.1 L710.0 750.1 L710.8 750.0 L711.5 750.0 L712.2 750.0 L713.0 750.0 L713.8 750.0 L714.5 750.0 L715.2 750.2 L716.0 750.1 L716.8 750.3 L717.5 750.4 L718.2 750.2 L719.0 750.4 L719.8 750.2 L720.5 750.0 L721.2 750.3 L722.0 750.0 L722.8 749.9 L723.5 750.2 L724.2 750.0 L725.0 750.1 L725.8 750.2 L726.5 750.1 L727.2 750.0 L728.0 750.3 L728.8 750.2 L729.5 750.1 L730.2 750.1 L731.0 750.2 L731.8 750.1 L732.5 750.0 L733.2 750.2 L734.0 750.0 L734.8 749.9 L735.5 749.8 L736.2 750.2 L737.0 750.2 L737.8 750.3 L738.5 750.3 L739.2 750.4 L740.0 750.3 L740.8 750.2 L741.5 750.3 L742.2 750.0 L743.0 750.0 L743.8 750.2 L744.5 750.2 L745.2 750.2 L746.0 750.4 L746.8 750.3 L747.5 750.4 L748.2 750.2 L749.0 750.0 L749.8 750.1 L750.5 750.0 L751.2 749.9 L752.0 749.9 L752.8 749.9 L753.5 750.0 L754.2 750.2 L755.0 750.3 L755.8 750.4 L756.5 750.2 L757.2 750.3 L758.0 750.4 L758.8 750.3 L759.5 750.4 L760.2 750.2 L761.0 750.4 L761.8 750.5 L762.5 750.6 L763.2 750.6 L764.0 750.5 L764.8 750.4 L765.5 750.4 L766.2 750.5 L767.0 750.4 L767.8 750.4 L768.5 750.5 L769.2 750.3 L770.0 750.2 L770.8 750.0 L771.5 750.2 L772.2 750.3 L773.0 750.3 L773.8 750.1 L774.5 750.0 L775.2 750.1 L776.0 750.3 L776.8 750.2 L777.5 750.2 L778.2 750.1 L779.0 750.3 L779.8 750.1 L780.5 750.3 L781.2 750.0 L782.0 750.2 L782.8 750.3 L783.5 750.2 L784.2 750.3 L785.0 750.2 L785.8 750.0 L786.5 750.0 L787.2 750.0 L788.0 750.2 L788.8 750.2 L789.5 750.3 L790.2 750.4 L791.0 750.4 L791.8 750.5 L792.5 750.6 L793.2 750.6 L794.0 750.5 L794.8 750.3 L795.5 750.2 L796.2 750.3 L797.0 750.4 L797.8 750.4 L798.5 750.4 L799.2 750.3 L800.0 749.9 L800.8 749.4 L801.5 748.1 L802.2 746.2 L803.0 743.6 L803.8 741.4 L804.3 740.8 L804.5 740.9 L805.2 742.3 L806.0 744.9 L806.8 747.3 L807.5 748.9 L808.2 749.5 L809.0 750.0 L809.8 750.3 L810.5 750.3 L811.2 750.1 L812.0 749.9 L812.8 749.8 L813.5 749.9 L814.2 750.1 L815.0 750.2 L815.8 750.1 L816.5 750.2 L817.2 750.0 L818.0 750.1 L818.8 750.0 L819.5 749.9 L820.2 749.9 L821.0 750.1 L821.8 750.0 L822.5 749.9 L823.2 750.0 L824.0 750.0 L824.8 750.1 L825.5 750.2 L826.2 750.3 L827.0 750.4 L827.8 750.3 L828.5 750.3 L829.2 750.1 L830.0 750.0 L830.8 749.9 L831.5 750.2 L832.2 750.1 L833.0 750.2 L833.8 750.4 L834.5 750.3 L835.2 750.1 L836.0 750.0 L836.8 750.1 L837.5 750.1 L838.2 749.9 L839.0 750.2 L839.8 750.2 L840.5 750.4 L841.2 750.5 L842.0 750.4 L842.8 750.5 L843.5 750.5 L844.2 750.3 L845.0 750.4 L845.8 750.5 L846.5 750.2 L847.2 750.0 L848.0 749.9 L848.8 750.0 L849.5 750.2 L850.2 750.2 L851.0 750.4 L851.8 750.2 L852.5 750.2 L853.2 750.1 L854.0 750.2 L854.8 750.1 L855.5 749.9 L856.2 750.0 L857.0 750.1 L857.8 750.3 L858.5 750.1 L859.2 750.3 L860.0 750.4 L860.8 750.1 L861.5 750.3 L862.2 750.4 L863.0 750.5 L863.8 750.4 L864.5 750.3 L865.2 750.2 L866.0 750.2 L866.8 750.2 L867.5 750.0 L868.2 750.2 L869.0 750.2 L869.8 749.9 L870.5 749.9 L871.2 749.7 L872.0 749.7 L872.8 749.4 L873.5 749.2 L874.2 748.3 L875.0 746.8 L875.8 744.2 L876.5 740.9 L877.2 737.6 L878.0 735.6 L878.3 735.4 L878.8 735.8 L879.5 737.9 L880.2 740.5 L881.0 742.1 L881.8 741.9 L882.5 739.8 L883.2 736.6 L884.0 733.8 L884.7 732.8 L884.8 732.8 L885.5 734.3 L886.2 737.6 L887.0 741.5 L887.8 744.9 L888.5 747.3 L889.2 748.5 L890.0 749.2 L890.8 749.7 L891.5 749.9 L892.2 750.0 L893.0 749.8 L893.8 749.8 L894.5 749.8 L895.2 750.0 L896.0 750.2 L896.8 750.1 L897.5 750.0 L898.2 750.3 L899.0 750.3 L899.8 750.3 L900.5 750.4 L901.2 750.3 L902.0 750.1 L902.8 750.0 L903.5 750.1 L904.2 750.2 L905.0 750.4 L905.8 750.5 L906.5 750.4 L907.2 750.3 L908.0 750.4 L908.8 750.1 L909.5 750.1 L910.2 750.1 L911.0 750.2 L911.8 750.2 L912.5 750.1 L913.2 750.1 L914.0 750.0 L914.8 750.0 L915.5 749.9 L916.2 749.9 L917.0 750.1 L917.8 750.1 L918.5 749.9 L919.2 750.0 L920.0 750.1 L920.8 750.0 L921.5 749.9 L922.2 749.9 L923.0 749.7 L923.8 748.8 L924.5 747.4 L925.2 745.1 L926.0 742.7 L926.8 741.7 L927.5 742.7 L928.2 745.1 L929.0 747.3 L929.8 748.8 L930.5 749.7 L931.2 750.1 L932.0 750.0 L932.8 749.9 L933.5 750.1 L934.2 750.1 L935.0 750.1 L935.8 750.0 L936.5 750.0 L937.2 750.1 L938.0 750.1 L938.8 750.0 L939.5 750.0 L940.2 750.3 L941.0 750.4 L941.8 750.4 L942.5 750.5 L943.2 750.3 L944.0 750.2 L944.8 750.3 L945.5 750.1 L946.2 750.3 L947.0 750.1 L947.8 750.2 L948.5 750.2 L949.2 750.3 L950.0 750.1 L950.8 750.2 L951.5 750.3 L952.2 750.1 L953.0 750.2 L953.8 750.1 L954.5 750.2 L955.2 750.4 L956.0 750.1 L956.8 750.1 L957.5 750.1 L958.2 750.4 L959.0 750.5 L959.8 750.2 L960.5 750.0 L961.2 750.0 L962.0 750.2 L962.8 750.3 L963.5 750.3 L964.2 750.4 L965.0 750.5 L965.8 750.5 L966.5 750.5 L967.2 750.2 L968.0 750.3 L968.8 750.4 L969.5 750.5 L970.2 750.2 L971.0 750.0 L971.8 750.0 L972.5 750.0 L973.2 750.0 L974.0 749.9 L974.8 750.1 L975.5 750.1 L976.2 750.0 L977.0 749.9 L977.8 750.1 L978.5 749.9 L979.2 750.2 L980.0 750.1 L980.8 750.3 L981.5 750.1 L982.2 750.1 L983.0 750.3 L983.8 750.2 L984.5 750.2 L985.2 750.4 L986.0 750.1 L986.8 750.3 L987.5 750.3 L988.2 750.1 L989.0 750.1 L989.8 750.0 L990.5 750.2 L991.2 750.1 L992.0 750.2 L992.8 750.2 L993.5 750.4 L994.2 750.4 L995.0 750.2 L995.8 750.3 L996.5 750.3 L997.2 750.5 L998.0 750.3 L998.8 750.3 L999.5 750.4 L1000.2 750.2 L1001.0 750.1 L1001.8 750.2 L1002.5 750.1 L1003.2 750.3 L1004.0 750.2 L1004.8 750.1 L1005.5 750.2 L1006.2 750.2 L1007.0 750.4 L1007.8 750.5 L1008.5 750.4 L1009.2 750.3 L1010.0 750.3 L1010.8 750.3 L1011.5 750.3 L1012.2 750.2 L1013.0 750.3 L1013.8 750.5 L1014.5 750.5 L1015.2 750.5 L1016.0 750.5 L1016.8 750.3 L1017.5 750.4 L1018.2 750.2 L1019.0 750.0 L1019.8 750.1 L1020.5 750.0 L1021.2 749.9 L1022.0 750.1 L1022.8 750.0 L1023.5 750.0 L1024.2 750.0 L1025.0 750.3 L1025.8 750.0 L1026.5 750.1 L1027.2 750.1 L1028.0 749.9 L1028.8 749.9 L1029.5 749.9 L1030.2 749.9 L1031.0 750.0 L1031.8 750.0 L1032.5 749.9 L1033.2 749.8 L1034.0 749.8 L1034.8 749.7 L1035.5 749.4 L1036.2 749.5 L1037.0 749.3 L1037.8 749.3 L1038.5 749.0 L1039.2 748.9 L1040.0 748.6 L1040.8 748.6 L1041.5 748.5 L1042.2 748.4 L1043.0 748.2 L1043.8 748.2 L1044.5 747.9 L1045.2 748.0 L1046.0 747.8 L1046.7 747.8 L1046.8 747.6 L1047.5 747.5 L1048.2 747.5 L1049.0 747.7 L1049.8 747.8 L1050.5 748.1 L1051.2 748.1 L1052.0 748.4 L1052.8 748.7 L1053.5 748.9 L1054.2 749.2 L1055.0 749.4 L1055.8 749.6 L1056.5 749.4 L1057.2 749.5 L1058.0 749.5 L1058.8 749.6 L1059.5 749.9 L1060.2 750.0 L1061.0 749.9 L1061.8 749.8 L1062.5 749.7 L1063.2 750.0 L1064.0 750.2 L1064.8 750.0 L1065.5 749.9 L1066.2 749.8 L1067.0 750.2 L1067.8 750.0 L1068.5 750.1 L1069.2 750.3 L1070.0 750.1 L1070.8 750.2 L1071.5 750.1 L1072.2 750.2 L1073.0 750.2 L1073.8 750.0 L1074.5 750.3 L1075.2 750.2 L1076.0 750.4 L1076.8 750.4 L1077.5 750.5" fill="none" stroke="#000000" stroke-width="6.8" stroke-linejoin="round" stroke-linecap="butt"/>
<line x1="841.5" y1="70.3" x2="945.5" y2="70.3" stroke="#a500d4" stroke-width="7.1"/>
<text x="951.5" y="85.6" font-size="45" fill="#9a12ee">83L5</text>
<line x1="841.5" y1="253.6" x2="945.5" y2="253.6" stroke="#4d98ff" stroke-width="7.1"/>
<text x="951.5" y="268.6" font-size="45" fill="#1414f2">83L3</text>
<line x1="841.5" y1="431.9" x2="945.5" y2="431.9" stroke="#ff7070" stroke-width="7.1"/>
<text x="951.5" y="447.4" font-size="45" fill="#ff7878">83L1</text>
<line x1="841.5" y1="622.3" x2="945.5" y2="622.3" stroke="#000000" stroke-width="7.1"/>
<text x="951.5" y="637" font-size="45" fill="#000000">83L0</text>
<text x="176.4" y="824.3" font-size="42" text-anchor="middle">10</text>
<text x="305.0" y="824.3" font-size="42" text-anchor="middle">20</text>
<text x="433.6" y="824.3" font-size="42" text-anchor="middle">30</text>
<text x="562.2" y="824.3" font-size="42" text-anchor="middle">40</text>
<text x="690.8" y="824.3" font-size="42" text-anchor="middle">50</text>
<text x="819.4" y="824.3" font-size="42" text-anchor="middle">60</text>
<text x="948.0" y="824.3" font-size="42" text-anchor="middle">70</text>
<text x="1076.6" y="824.3" font-size="42" text-anchor="middle">80</text>
<text x="627.5" y="890.5" font-size="60.4" text-anchor="middle">2 Theta (degree)</text>
<text transform="translate(117.3 406.2) rotate(-90)" font-size="60" text-anchor="middle">Intensity (a.u.)</text>
<text class="lab" transform="translate(12.6 104.2) scale(1.045 1)" font-size="100">(a)</text>
</g>
<g id="panel-b">
<defs>
<radialGradient id="gG" gradientUnits="objectBoundingBox" cx="0.375" cy="0.365" r="0.27" fx="0.375" fy="0.365"><stop offset="0" stop-color="#d8f8d8"/><stop offset="0.28" stop-color="#b8f5b8"/><stop offset="1" stop-color="#46f046"/></radialGradient>
<radialGradient id="gB" gradientUnits="objectBoundingBox" cx="0.375" cy="0.365" r="0.27" fx="0.375" fy="0.365"><stop offset="0" stop-color="#ffffff"/><stop offset="0.28" stop-color="#f0f0ff"/><stop offset="1" stop-color="#0606fa"/></radialGradient>
<radialGradient id="gK" gradientUnits="objectBoundingBox" cx="0.375" cy="0.365" r="0.27" fx="0.375" fy="0.365"><stop offset="0" stop-color="#ffffff"/><stop offset="0.28" stop-color="#e8e8e8"/><stop offset="1" stop-color="#000000"/></radialGradient>
</defs>
<circle cx="1339.25" cy="236.75" r="14.1" fill="url(#gG)"/>
<circle cx="1478.75" cy="115" r="14.1" fill="url(#gG)"/>
<circle cx="1757.7" cy="92.8" r="14.1" fill="url(#gG)"/>
<circle cx="2036.5" cy="76.25" r="14.1" fill="url(#gG)"/>
<circle cx="1340" cy="487.5" r="14.6" fill="url(#gB)"/>
<circle cx="1480" cy="350.5" r="14.6" fill="url(#gB)"/>
<circle cx="1759.5" cy="341.2" r="14.6" fill="url(#gB)"/>
<circle cx="2039.5" cy="311.75" r="14.6" fill="url(#gB)"/>
<circle cx="1340" cy="727.75" r="14.8" fill="url(#gK)"/>
<circle cx="1480" cy="657.5" r="14.8" fill="url(#gK)"/>
<circle cx="1759.5" cy="647.1" r="14.8" fill="url(#gK)"/>
<circle cx="2039" cy="548.75" r="14.8" fill="url(#gK)"/>
<line x1="1336.25" y1="191.75" x2="2041.5" y2="55.5" stroke="#ff0000" stroke-width="5"/>
<line x1="1336.25" y1="436.25" x2="2039" y2="292" stroke="#078607" stroke-width="5"/>
<line x1="1336.25" y1="713.25" x2="2039" y2="556.5" stroke="#a500d4" stroke-width="5"/>
<circle cx="1313" cy="77.5" r="14.1" fill="url(#gG)"/>
<circle cx="1315.5" cy="316.25" r="14.6" fill="url(#gB)"/>
<circle cx="1311.25" cy="552" r="14.8" fill="url(#gK)"/>
<text x="1352.5" y="93" font-size="44">a (Å)</text>
<text x="1352.5" y="327" font-size="43.5">c (Å)</text>
<text x="1350" y="563.3" font-size="43.5">Cell Volume (Å<tspan dy="-17" font-size="25">3</tspan><tspan dy="17">)</tspan></text>
<g stroke="#000" stroke-width="9" fill="none">
<line x1="1269.9" y1="38" x2="1269.9" y2="762.6"/>
<line x1="2110.6" y1="38" x2="2110.6" y2="762.6"/>
<line x1="1265.4" y1="42.5" x2="2115.1" y2="42.5"/>
<line x1="1265.4" y1="755.5" x2="2115.1" y2="755.5" stroke-width="8.6"/>
<line x1="1269.9" y1="280" x2="2110.6" y2="280"/>
<line x1="1269.9" y1="518.6" x2="2110.6" y2="518.6"/>
<line x1="1339.7" y1="755.5" x2="1339.7" y2="770"/>
<line x1="1479.7" y1="755.5" x2="1479.7" y2="770"/>
<line x1="1619.7" y1="755.5" x2="1619.7" y2="770"/>
<line x1="1759.7" y1="755.5" x2="1759.7" y2="770"/>
<line x1="1899.7" y1="755.5" x2="1899.7" y2="770"/>
<line x1="2039.7" y1="755.5" x2="2039.7" y2="770"/>
<line x1="1409.7" y1="755.5" x2="1409.7" y2="764"/>
<line x1="1549.7" y1="755.5" x2="1549.7" y2="764"/>
<line x1="1689.7" y1="755.5" x2="1689.7" y2="764"/>
<line x1="1829.7" y1="755.5" x2="1829.7" y2="764"/>
<line x1="1969.7" y1="755.5" x2="1969.7" y2="764"/>
<line x1="2096" y1="77" x2="2110.6" y2="77" stroke-width="8.6"/>
<line x1="2096" y1="144.4" x2="2110.6" y2="144.4" stroke-width="8.6"/>
<line x1="2096" y1="212" x2="2110.6" y2="212" stroke-width="8.6"/>
<line x1="2096" y1="307.5" x2="2110.6" y2="307.5" stroke-width="8.6"/>
<line x1="2096" y1="363" x2="2110.6" y2="363" stroke-width="8.6"/>
<line x1="2096" y1="419" x2="2110.6" y2="419" stroke-width="8.6"/>
<line x1="2096" y1="475" x2="2110.6" y2="475" stroke-width="8.6"/>
<line x1="2096" y1="562" x2="2110.6" y2="562" stroke-width="8.6"/>
<line x1="2096" y1="605" x2="2110.6" y2="605" stroke-width="8.6"/>
<line x1="2096" y1="648" x2="2110.6" y2="648" stroke-width="8.6"/>
<line x1="2096" y1="691.5" x2="2110.6" y2="691.5" stroke-width="8.6"/>
<line x1="2096" y1="735" x2="2110.6" y2="735" stroke-width="8.6"/>
<line x1="2103.8" y1="110" x2="2110.6" y2="110" stroke-width="8.6"/>
<line x1="2103.8" y1="178" x2="2110.6" y2="178" stroke-width="8.6"/>
<line x1="2103.8" y1="245" x2="2110.6" y2="245" stroke-width="8.6"/>
<line x1="2103.8" y1="335" x2="2110.6" y2="335" stroke-width="8.6"/>
<line x1="2103.8" y1="391" x2="2110.6" y2="391" stroke-width="8.6"/>
<line x1="2103.8" y1="447" x2="2110.6" y2="447" stroke-width="8.6"/>
<line x1="2103.8" y1="502.5" x2="2110.6" y2="502.5" stroke-width="8.6"/>
<line x1="2103.8" y1="540" x2="2110.6" y2="540" stroke-width="8.6"/>
<line x1="2103.8" y1="583.5" x2="2110.6" y2="583.5" stroke-width="8.6"/>
<line x1="2103.8" y1="626.5" x2="2110.6" y2="626.5" stroke-width="8.6"/>
<line x1="2103.8" y1="670" x2="2110.6" y2="670" stroke-width="8.6"/>
<line x1="2103.8" y1="713" x2="2110.6" y2="713" stroke-width="8.6"/>
</g>
<text x="2137.5" y="60.2" font-size="37.5" fill="#ff0f0f">2.880</text>
<text x="2137.5" y="127.9" font-size="37.5" fill="#ff0f0f">2.875</text>
<text x="2137.5" y="195.6" font-size="37.5" fill="#ff0f0f">2.870</text>
<text x="2137.5" y="263.3" font-size="37.5" fill="#ff0f0f">2.865</text>
<text x="2133.2" y="333.3" font-size="37.5" fill="#0f860f">14.22</text>
<text x="2133.2" y="389.3" font-size="37.5" fill="#0f860f">14.21</text>
<text x="2133.2" y="445.3" font-size="37.5" fill="#0f860f">14.20</text>
<text x="2133.2" y="501.3" font-size="37.5" fill="#0f860f">14.19</text>
<text x="2130.5" y="553.8" font-size="37.5" fill="#a70fd8">103.5</text>
<text x="2130.5" y="597.3" font-size="37.5" fill="#a70fd8">103.0</text>
<text x="2130.5" y="640.8" font-size="37.5" fill="#a70fd8">102.5</text>
<text x="2130.5" y="684.3" font-size="37.5" fill="#a70fd8">102.0</text>
<text x="2130.5" y="727.8" font-size="37.5" fill="#a70fd8">101.5</text>
<text x="2130.5" y="771.3" font-size="37.5" fill="#a70fd8">101.0</text>
<text x="1339.7" y="812.6" font-size="45.5" text-anchor="middle">0</text>
<text x="1479.7" y="812.6" font-size="45.5" text-anchor="middle">1</text>
<text x="1619.7" y="812.6" font-size="45.5" text-anchor="middle">2</text>
<text x="1759.7" y="812.6" font-size="45.5" text-anchor="middle">3</text>
<text x="1899.7" y="812.6" font-size="45.5" text-anchor="middle">4</text>
<text x="2039.7" y="812.6" font-size="45.5" text-anchor="middle">5</text>
<text x="1689.3" y="881" font-size="60" text-anchor="middle">LATP (wt.%)</text>
<text transform="translate(1222.8 398.6) rotate(-90)" font-size="59.3" text-anchor="middle">Lattice Parameters</text>
<text class="lab" transform="translate(1121.6 105) scale(1.05 1)" font-size="100">(b)</text>
</g>
</g>
</svg>
</body>
</html>
